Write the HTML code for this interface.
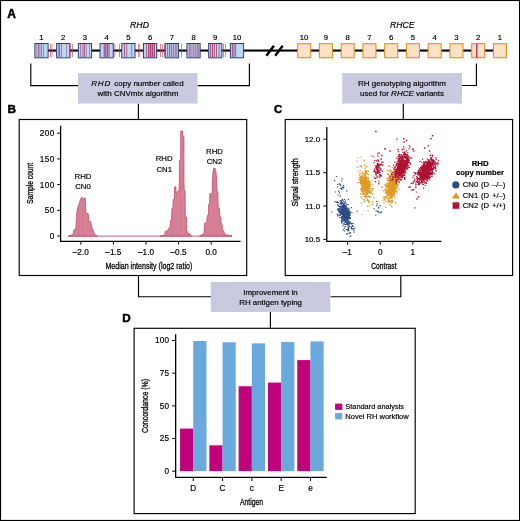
<!DOCTYPE html>
<html><head><meta charset="utf-8"><title>RH genotyping workflow</title>
<style>html,body{margin:0;padding:0;background:#fff}svg{display:block}text{font-family:"Liberation Sans", Arial, Helvetica, sans-serif;fill:#000;stroke:#000;stroke-width:0.18px}</style></head><body>
<svg width="520" height="521" viewBox="0 0 520 521">
<rect x="0" y="0" width="520" height="521" fill="#fff"/>
<rect x="0" y="0" width="520" height="1.05" fill="#000"/>
<rect x="0" y="519.9" width="520" height="1.1" fill="#000"/>
<rect x="0" y="0" width="1.1" height="521" fill="#000"/>
<rect x="519" y="0" width="1" height="521" fill="#000"/>
<text x="7.30" y="17.60" font-size="12.00" text-anchor="start" font-weight="bold" style="stroke-width:0.5px">A</text>
<text x="7.60" y="112.60" font-size="11.70" text-anchor="start" font-weight="bold" style="stroke-width:0.5px">B</text>
<text x="274.00" y="113.10" font-size="11.30" text-anchor="start" font-weight="bold" style="stroke-width:0.5px">C</text>
<text x="122.30" y="321.80" font-size="11.70" text-anchor="start" font-weight="bold" style="stroke-width:0.5px">D</text>
<g id="geneA">
<rect x="41" y="49.5" width="258" height="2.1" fill="#000"/>
<rect x="303" y="49.5" width="198" height="2.1" fill="#000"/>
<path d="M266.4 55.8 L273.9 45.7 M275.2 55.8 L282.7 45.7" stroke="#000" stroke-width="2.4" fill="none"/>
<text x="139.50" y="27.60" font-size="8.70" text-anchor="middle" font-style="italic">RHD</text>
<text x="402.30" y="27.60" font-size="8.60" text-anchor="middle" font-style="italic">RHCE</text>
<rect x="50.10" y="43.8" width="0.6" height="13.4" fill="#cc3355"/>
<rect x="51.70" y="43.8" width="0.6" height="13.4" fill="#cc3355"/>
<rect x="70.60" y="43.8" width="0.6" height="13.4" fill="#cc3355"/>
<rect x="72.20" y="43.8" width="0.6" height="13.4" fill="#cc3355"/>
<rect x="114.60" y="43.8" width="0.6" height="13.4" fill="#cc3355"/>
<rect x="119.20" y="43.8" width="0.6" height="13.4" fill="#cc3355"/>
<rect x="137.90" y="43.8" width="0.6" height="13.4" fill="#cc3355"/>
<rect x="139.50" y="43.8" width="0.6" height="13.4" fill="#cc3355"/>
<rect x="160.30" y="43.8" width="0.6" height="13.4" fill="#cc3355"/>
<rect x="161.90" y="43.8" width="0.6" height="13.4" fill="#cc3355"/>
<rect x="164.00" y="43.8" width="0.6" height="13.4" fill="#cc3355"/>
<rect x="181.20" y="43.8" width="0.6" height="13.4" fill="#cc3355"/>
<rect x="223.40" y="43.8" width="0.6" height="13.4" fill="#cc3355"/>
<rect x="225.50" y="43.8" width="0.6" height="13.4" fill="#cc3355"/>
<rect x="34.90" y="43.50" width="13.20" height="14.30" fill="#bcd7f2"/>
<rect x="36.55" y="44.00" width="0.70" height="13.30" fill="#a62862" opacity="0.8"/>
<rect x="38.15" y="44.00" width="0.70" height="13.30" fill="#a62862" opacity="0.8"/>
<rect x="39.55" y="44.00" width="0.70" height="13.30" fill="#a62862" opacity="0.8"/>
<rect x="41.25" y="44.00" width="0.70" height="13.30" fill="#a62862" opacity="0.8"/>
<rect x="43.30" y="44.00" width="0.60" height="13.30" fill="#a62862" opacity="0.8"/>
<rect x="34.90" y="43.50" width="13.20" height="14.30" fill="none" stroke="#27408b" stroke-width="1"/>
<text x="41.50" y="40.00" font-size="7.70" text-anchor="middle">1</text>
<rect x="56.62" y="43.50" width="13.20" height="14.30" fill="#bcd7f2"/>
<rect x="58.52" y="44.00" width="1.40" height="13.30" fill="#a62862" opacity="0.8"/>
<rect x="61.27" y="44.00" width="0.70" height="13.30" fill="#a62862" opacity="0.8"/>
<rect x="66.12" y="44.00" width="0.60" height="13.30" fill="#a62862" opacity="0.8"/>
<rect x="56.62" y="43.50" width="13.20" height="14.30" fill="none" stroke="#27408b" stroke-width="1"/>
<text x="63.22" y="40.00" font-size="7.70" text-anchor="middle">2</text>
<rect x="78.34" y="43.50" width="13.20" height="14.30" fill="#bcd7f2"/>
<rect x="80.34" y="44.00" width="0.80" height="13.30" fill="#a62862" opacity="0.8"/>
<rect x="82.64" y="44.00" width="0.80" height="13.30" fill="#a62862" opacity="0.8"/>
<rect x="83.94" y="44.00" width="0.80" height="13.30" fill="#a62862" opacity="0.8"/>
<rect x="85.79" y="44.00" width="0.70" height="13.30" fill="#a62862" opacity="0.8"/>
<rect x="89.24" y="44.00" width="0.60" height="13.30" fill="#a62862" opacity="0.8"/>
<rect x="78.34" y="43.50" width="13.20" height="14.30" fill="none" stroke="#27408b" stroke-width="1"/>
<text x="84.94" y="40.00" font-size="7.70" text-anchor="middle">3</text>
<rect x="100.06" y="43.50" width="13.20" height="14.30" fill="#bcd7f2"/>
<rect x="103.66" y="44.00" width="1.20" height="13.30" fill="#a62862" opacity="0.8"/>
<rect x="105.26" y="44.00" width="1.20" height="13.30" fill="#a62862" opacity="0.8"/>
<rect x="106.86" y="44.00" width="1.20" height="13.30" fill="#a62862" opacity="0.8"/>
<rect x="108.56" y="44.00" width="1.00" height="13.30" fill="#a62862" opacity="0.8"/>
<rect x="100.06" y="43.50" width="13.20" height="14.30" fill="none" stroke="#27408b" stroke-width="1"/>
<text x="106.66" y="40.00" font-size="7.70" text-anchor="middle">4</text>
<rect x="121.78" y="43.50" width="13.20" height="14.30" fill="#bcd7f2"/>
<rect x="124.03" y="44.00" width="0.90" height="13.30" fill="#a62862" opacity="0.8"/>
<rect x="126.38" y="44.00" width="0.80" height="13.30" fill="#a62862" opacity="0.8"/>
<rect x="131.43" y="44.00" width="0.70" height="13.30" fill="#a62862" opacity="0.8"/>
<rect x="121.78" y="43.50" width="13.20" height="14.30" fill="none" stroke="#27408b" stroke-width="1"/>
<text x="128.38" y="40.00" font-size="7.70" text-anchor="middle">5</text>
<rect x="143.50" y="43.50" width="13.20" height="14.30" fill="#bcd7f2"/>
<rect x="145.90" y="44.00" width="0.80" height="13.30" fill="#a62862" opacity="0.8"/>
<rect x="147.90" y="44.00" width="1.60" height="13.30" fill="#a62862" opacity="0.8"/>
<rect x="149.90" y="44.00" width="1.60" height="13.30" fill="#a62862" opacity="0.8"/>
<rect x="151.90" y="44.00" width="1.60" height="13.30" fill="#a62862" opacity="0.8"/>
<rect x="154.00" y="44.00" width="1.00" height="13.30" fill="#a62862" opacity="0.8"/>
<rect x="143.50" y="43.50" width="13.20" height="14.30" fill="none" stroke="#27408b" stroke-width="1"/>
<text x="150.10" y="40.00" font-size="7.70" text-anchor="middle">6</text>
<rect x="165.22" y="43.50" width="13.20" height="14.30" fill="#bcd7f2"/>
<rect x="167.22" y="44.00" width="0.80" height="13.30" fill="#a62862" opacity="0.8"/>
<rect x="168.97" y="44.00" width="0.90" height="13.30" fill="#a62862" opacity="0.8"/>
<rect x="170.77" y="44.00" width="0.90" height="13.30" fill="#a62862" opacity="0.8"/>
<rect x="172.77" y="44.00" width="0.90" height="13.30" fill="#a62862" opacity="0.8"/>
<rect x="174.82" y="44.00" width="0.80" height="13.30" fill="#a62862" opacity="0.8"/>
<rect x="176.47" y="44.00" width="0.70" height="13.30" fill="#a62862" opacity="0.8"/>
<rect x="165.22" y="43.50" width="13.20" height="14.30" fill="none" stroke="#27408b" stroke-width="1"/>
<text x="171.82" y="40.00" font-size="7.70" text-anchor="middle">7</text>
<rect x="186.94" y="43.50" width="13.20" height="14.30" fill="#bcd7f2"/>
<rect x="188.69" y="44.00" width="0.90" height="13.30" fill="#a62862" opacity="0.8"/>
<rect x="190.49" y="44.00" width="0.90" height="13.30" fill="#a62862" opacity="0.8"/>
<rect x="192.69" y="44.00" width="0.90" height="13.30" fill="#a62862" opacity="0.8"/>
<rect x="194.69" y="44.00" width="0.90" height="13.30" fill="#a62862" opacity="0.8"/>
<rect x="196.69" y="44.00" width="0.90" height="13.30" fill="#a62862" opacity="0.8"/>
<rect x="198.39" y="44.00" width="0.70" height="13.30" fill="#a62862" opacity="0.8"/>
<rect x="186.94" y="43.50" width="13.20" height="14.30" fill="none" stroke="#27408b" stroke-width="1"/>
<text x="193.54" y="40.00" font-size="7.70" text-anchor="middle">8</text>
<rect x="208.66" y="43.50" width="13.20" height="14.30" fill="#bcd7f2"/>
<rect x="210.16" y="44.00" width="1.00" height="13.30" fill="#a62862" opacity="0.8"/>
<rect x="211.96" y="44.00" width="1.00" height="13.30" fill="#a62862" opacity="0.8"/>
<rect x="213.76" y="44.00" width="1.00" height="13.30" fill="#a62862" opacity="0.8"/>
<rect x="216.01" y="44.00" width="0.90" height="13.30" fill="#a62862" opacity="0.8"/>
<rect x="218.66" y="44.00" width="0.80" height="13.30" fill="#a62862" opacity="0.8"/>
<rect x="208.66" y="43.50" width="13.20" height="14.30" fill="none" stroke="#27408b" stroke-width="1"/>
<text x="215.26" y="40.00" font-size="7.70" text-anchor="middle">9</text>
<rect x="230.38" y="43.50" width="13.20" height="14.30" fill="#bcd7f2"/>
<rect x="231.88" y="44.00" width="1.00" height="13.30" fill="#a62862" opacity="0.8"/>
<rect x="233.48" y="44.00" width="1.00" height="13.30" fill="#a62862" opacity="0.8"/>
<rect x="235.13" y="44.00" width="0.90" height="13.30" fill="#a62862" opacity="0.8"/>
<rect x="230.38" y="43.50" width="13.20" height="14.30" fill="none" stroke="#27408b" stroke-width="1"/>
<text x="236.98" y="40.00" font-size="7.70" text-anchor="middle">10</text>
<rect x="297.70" y="43.70" width="13.00" height="14.00" fill="#fbe2c6" stroke="#e2901c" stroke-width="1.1"/>
<text x="304.05" y="40.00" font-size="7.70" text-anchor="middle">10</text>
<rect x="319.45" y="43.70" width="13.00" height="14.00" fill="#fbe2c6" stroke="#e2901c" stroke-width="1.1"/>
<text x="325.80" y="40.00" font-size="7.70" text-anchor="middle">9</text>
<rect x="341.20" y="43.70" width="13.00" height="14.00" fill="#fbe2c6" stroke="#e2901c" stroke-width="1.1"/>
<text x="347.55" y="40.00" font-size="7.70" text-anchor="middle">8</text>
<rect x="362.95" y="43.70" width="13.00" height="14.00" fill="#fbe2c6" stroke="#e2901c" stroke-width="1.1"/>
<text x="369.30" y="40.00" font-size="7.70" text-anchor="middle">7</text>
<rect x="384.70" y="43.70" width="13.00" height="14.00" fill="#fbe2c6" stroke="#e2901c" stroke-width="1.1"/>
<text x="391.05" y="40.00" font-size="7.70" text-anchor="middle">6</text>
<rect x="406.45" y="43.70" width="13.00" height="14.00" fill="#fbe2c6" stroke="#e2901c" stroke-width="1.1"/>
<text x="412.80" y="40.00" font-size="7.70" text-anchor="middle">5</text>
<rect x="428.20" y="43.70" width="13.00" height="14.00" fill="#fbe2c6" stroke="#e2901c" stroke-width="1.1"/>
<text x="434.55" y="40.00" font-size="7.70" text-anchor="middle">4</text>
<rect x="449.95" y="43.70" width="13.00" height="14.00" fill="#fbe2c6" stroke="#e2901c" stroke-width="1.1"/>
<text x="456.30" y="40.00" font-size="7.70" text-anchor="middle">3</text>
<rect x="471.70" y="43.70" width="13.00" height="14.00" fill="#fbe2c6" stroke="#e2901c" stroke-width="1.1"/>
<rect x="476.20" y="43.4" width="1.2" height="14.6" fill="#b5183a"/>
<text x="478.05" y="40.00" font-size="7.70" text-anchor="middle">2</text>
<rect x="493.45" y="43.70" width="13.00" height="14.00" fill="#fbe2c6" stroke="#e2901c" stroke-width="1.1"/>
<text x="499.80" y="40.00" font-size="7.70" text-anchor="middle">1</text>
</g>
<path d="M30.80 63.40 L30.80 85.60 L78.00 85.60" stroke="#000" stroke-width="1.15" fill="none"/>
<path d="M249.40 63.40 L249.40 85.60 L197.50 85.60" stroke="#000" stroke-width="1.15" fill="none"/>
<path d="M138.40 103.50 L138.40 119.50" stroke="#000" stroke-width="1.15" fill="none"/>
<path d="M476.40 63.40 L476.40 85.50 L462.00 85.50" stroke="#000" stroke-width="1.15" fill="none"/>
<path d="M403.30 103.50 L403.30 119.50" stroke="#000" stroke-width="1.15" fill="none"/>
<path d="M138.50 275.50 L138.50 296.70 L211.00 296.70" stroke="#000" stroke-width="1.15" fill="none"/>
<path d="M400.80 275.50 L400.80 296.70 L330.50 296.70" stroke="#000" stroke-width="1.15" fill="none"/>
<path d="M270.40 311.90 L270.40 328.30" stroke="#000" stroke-width="1.15" fill="none"/>
<rect x="78" y="73.1" width="119.5" height="30.5" fill="#c9c9df"/>
<rect x="342.2" y="73.1" width="119.8" height="30.5" fill="#c9c9df"/>
<rect x="210.8" y="282.0" width="119.5" height="30.0" fill="#c9c9df"/>
<text x="91.3" y="85.6" font-size="8.0" text-anchor="start"><tspan font-style="italic" letter-spacing="0.8">RHD</tspan><tspan dx="1.0"> copy number called</tspan></text>
<text x="137.90" y="96.10" font-size="8.00" text-anchor="middle">with CNVmix algorithm</text>
<text x="402.00" y="85.50" font-size="8.00" text-anchor="middle">RH genotyping algorithm</text>
<text x="402" y="96.1" font-size="8.0" text-anchor="middle">used for <tspan font-style="italic">RHCE</tspan> variants</text>
<text x="270.40" y="294.50" font-size="7.90" text-anchor="middle">Improvement in</text>
<text x="270.60" y="304.90" font-size="7.90" text-anchor="middle">RH antigen typing</text>
<rect x="19.20" y="119.50" width="227.50" height="156.00" fill="none" stroke="#000" stroke-width="1.15"/>
<rect x="285.20" y="119.50" width="227.40" height="156.00" fill="none" stroke="#000" stroke-width="1.15"/>
<rect x="134.10" y="328.30" width="281.10" height="185.30" fill="none" stroke="#000" stroke-width="1.15"/>
<g id="panelB">
<rect x="68" y="235.7" width="164" height="0.8" fill="#bd3b5b"/>
<clipPath id="hc0"><path d="M68.40 236.10 L68.40 235.90 L70.60 235.40 L73.20 233.80 L73.70 230.10 L75.80 229.10 L76.40 216.40 L77.40 208.50 L79.00 204.30 L80.10 200.00 L81.60 197.20 L83.20 198.40 L85.30 197.90 L85.90 213.20 L88.30 213.80 L88.70 221.20 L90.80 221.70 L91.70 227.00 L93.30 230.70 L94.30 233.80 L96.40 235.40 L97.50 236.00 L97.50 236.10 Z"/></clipPath>
<path d="M68.40 236.10 L68.40 235.90 L70.60 235.40 L73.20 233.80 L73.70 230.10 L75.80 229.10 L76.40 216.40 L77.40 208.50 L79.00 204.30 L80.10 200.00 L81.60 197.20 L83.20 198.40 L85.30 197.90 L85.90 213.20 L88.30 213.80 L88.70 221.20 L90.80 221.70 L91.70 227.00 L93.30 230.70 L94.30 233.80 L96.40 235.40 L97.50 236.00 L97.50 236.10 Z" fill="#de93a6" stroke="#bd3b5b" stroke-width="0.65" stroke-linejoin="round"/>
<path d="M69.30 126V236M70.60 126V236M71.91 126V236M73.21 126V236M74.52 126V236M75.82 126V236M77.12 126V236M78.43 126V236M79.73 126V236M81.04 126V236M82.34 126V236M83.64 126V236M84.95 126V236M86.25 126V236M87.56 126V236M88.86 126V236M90.16 126V236M91.47 126V236M92.77 126V236M94.08 126V236M95.38 126V236M96.68 126V236" stroke="#c2506f" stroke-width="0.45" fill="none" opacity="0.85" clip-path="url(#hc0)"/>
<clipPath id="hc1"><path d="M160.00 236.10 L160.00 236.10 L164.60 235.30 L165.20 231.30 L168.60 230.10 L169.20 227.20 L170.40 226.70 L170.60 220.30 L171.50 219.70 L171.90 208.20 L172.90 207.60 L173.20 199.60 L174.40 199.00 L174.60 186.90 L175.90 186.70 L176.10 193.80 L177.30 191.50 L179.00 190.90 L179.40 180.00 L179.40 160.60 L180.70 160.00 L180.70 131.20 L182.50 130.80 L182.70 135.80 L184.00 136.40 L184.00 180.00 L184.20 189.80 L185.10 190.40 L185.30 216.30 L186.50 216.90 L186.70 230.70 L187.60 231.80 L188.20 234.10 L189.70 233.60 L190.50 235.30 L191.70 236.10 L191.70 236.10 Z"/></clipPath>
<path d="M160.00 236.10 L160.00 236.10 L164.60 235.30 L165.20 231.30 L168.60 230.10 L169.20 227.20 L170.40 226.70 L170.60 220.30 L171.50 219.70 L171.90 208.20 L172.90 207.60 L173.20 199.60 L174.40 199.00 L174.60 186.90 L175.90 186.70 L176.10 193.80 L177.30 191.50 L179.00 190.90 L179.40 180.00 L179.40 160.60 L180.70 160.00 L180.70 131.20 L182.50 130.80 L182.70 135.80 L184.00 136.40 L184.00 180.00 L184.20 189.80 L185.10 190.40 L185.30 216.30 L186.50 216.90 L186.70 230.70 L187.60 231.80 L188.20 234.10 L189.70 233.60 L190.50 235.30 L191.70 236.10 L191.70 236.10 Z" fill="#de93a6" stroke="#bd3b5b" stroke-width="0.65" stroke-linejoin="round"/>
<path d="M160.90 126V236M162.20 126V236M163.51 126V236M164.81 126V236M166.12 126V236M167.42 126V236M168.72 126V236M170.03 126V236M171.33 126V236M172.64 126V236M173.94 126V236M175.24 126V236M176.55 126V236M177.85 126V236M179.16 126V236M180.46 126V236M181.76 126V236M183.07 126V236M184.37 126V236M185.68 126V236M186.98 126V236M188.28 126V236M189.59 126V236M190.89 126V236" stroke="#c2506f" stroke-width="0.45" fill="none" opacity="0.85" clip-path="url(#hc1)"/>
<clipPath id="hc2"><path d="M199.50 236.10 L199.50 236.00 L202.30 234.40 L204.00 233.10 L204.40 223.30 L206.70 222.70 L207.20 215.80 L208.30 215.20 L208.70 204.20 L209.50 203.60 L209.80 193.80 L212.10 193.30 L212.50 180.00 L213.00 172.00 L213.60 168.00 L215.20 168.40 L216.00 172.00 L216.70 180.00 L217.10 191.50 L217.90 192.10 L218.20 207.70 L219.40 208.30 L219.80 216.30 L220.80 216.90 L221.10 223.30 L221.90 223.80 L222.50 229.60 L223.60 230.80 L224.50 233.60 L226.50 234.80 L230.00 235.70 L232.00 236.00 L232.00 236.10 Z"/></clipPath>
<path d="M199.50 236.10 L199.50 236.00 L202.30 234.40 L204.00 233.10 L204.40 223.30 L206.70 222.70 L207.20 215.80 L208.30 215.20 L208.70 204.20 L209.50 203.60 L209.80 193.80 L212.10 193.30 L212.50 180.00 L213.00 172.00 L213.60 168.00 L215.20 168.40 L216.00 172.00 L216.70 180.00 L217.10 191.50 L217.90 192.10 L218.20 207.70 L219.40 208.30 L219.80 216.30 L220.80 216.90 L221.10 223.30 L221.90 223.80 L222.50 229.60 L223.60 230.80 L224.50 233.60 L226.50 234.80 L230.00 235.70 L232.00 236.00 L232.00 236.10 Z" fill="#de93a6" stroke="#bd3b5b" stroke-width="0.65" stroke-linejoin="round"/>
<path d="M200.40 126V236M201.70 126V236M203.01 126V236M204.31 126V236M205.62 126V236M206.92 126V236M208.22 126V236M209.53 126V236M210.83 126V236M212.14 126V236M213.44 126V236M214.74 126V236M216.05 126V236M217.35 126V236M218.66 126V236M219.96 126V236M221.26 126V236M222.57 126V236M223.87 126V236M225.18 126V236M226.48 126V236M227.78 126V236M229.09 126V236M230.39 126V236M231.70 126V236" stroke="#c2506f" stroke-width="0.45" fill="none" opacity="0.85" clip-path="url(#hc2)"/>
<path d="M60.6 125.8 V241.3 H240.5" stroke="#000" stroke-width="1.3" fill="none"/>
<path d="M57.2 236.00 H60.6" stroke="#000" stroke-width="1.0"/>
<text x="54.60" y="238.90" font-size="8.20" text-anchor="end" letter-spacing="0.4">0</text>
<path d="M57.2 210.30 H60.6" stroke="#000" stroke-width="1.0"/>
<text x="54.60" y="213.20" font-size="8.20" text-anchor="end" letter-spacing="0.4">50</text>
<path d="M57.2 184.60 H60.6" stroke="#000" stroke-width="1.0"/>
<text x="54.60" y="187.50" font-size="8.20" text-anchor="end" letter-spacing="0.4">100</text>
<path d="M57.2 158.90 H60.6" stroke="#000" stroke-width="1.0"/>
<text x="54.60" y="161.80" font-size="8.20" text-anchor="end" letter-spacing="0.4">150</text>
<path d="M57.2 133.20 H60.6" stroke="#000" stroke-width="1.0"/>
<text x="54.60" y="136.10" font-size="8.20" text-anchor="end" letter-spacing="0.4">200</text>
<path d="M80.80 241.1 V244.6" stroke="#000" stroke-width="1.0"/>
<text x="80.80" y="255.30" font-size="8.20" text-anchor="middle" letter-spacing="0.05">–2.0</text>
<path d="M113.40 241.1 V244.6" stroke="#000" stroke-width="1.0"/>
<text x="113.40" y="255.30" font-size="8.20" text-anchor="middle" letter-spacing="0.05">–1.5</text>
<path d="M146.00 241.1 V244.6" stroke="#000" stroke-width="1.0"/>
<text x="146.00" y="255.30" font-size="8.20" text-anchor="middle" letter-spacing="0.05">–1.0</text>
<path d="M178.60 241.1 V244.6" stroke="#000" stroke-width="1.0"/>
<text x="178.60" y="255.30" font-size="8.20" text-anchor="middle" letter-spacing="0.05">–0.5</text>
<path d="M211.20 241.1 V244.6" stroke="#000" stroke-width="1.0"/>
<text x="211.20" y="255.30" font-size="8.20" text-anchor="middle" letter-spacing="0.05">0.0</text>
<text transform="translate(148.90 268.70) scale(0.723 1)" font-size="9.80" text-anchor="middle" style="stroke-width:0.3px">Median intensity (log2 ratio)</text>
<text transform="translate(32.80 183.30) rotate(-90) scale(0.685 1)" font-size="9.80" text-anchor="middle" style="stroke-width:0.3px">Sample count</text>
<text x="83.00" y="178.50" font-size="7.80" text-anchor="middle">RHD</text>
<text x="83.00" y="188.90" font-size="7.80" text-anchor="middle">CN0</text>
<text x="164.20" y="161.30" font-size="7.80" text-anchor="middle">RHD</text>
<text x="164.20" y="171.60" font-size="7.80" text-anchor="middle">CN1</text>
<text x="214.50" y="154.10" font-size="7.80" text-anchor="middle">RHD</text>
<text x="214.50" y="164.20" font-size="7.80" text-anchor="middle">CN2</text>
</g>
<g id="panelC">
<path d="M343.8 214.4h1.2M342.7 210.8h1.2M341.3 211.7h1.2M346.7 213.1h1.2M346.3 212.4h1.2M344.8 212.5h1.2M341.2 216.9h1.2M345.5 213.8h1.2M337.5 205.6h1.2M341.1 210.6h1.2M344.3 211.6h1.2M343.9 208.8h1.2M344.9 213.5h1.2M344.7 220.0h1.2M346.6 216.8h1.2M341.3 209.2h1.2M342.8 211.8h1.2M345.4 212.6h1.2M341.3 208.1h1.2M344.3 217.7h1.2M342.3 213.6h1.2M342.5 205.2h1.2M345.6 217.7h1.2M338.8 212.0h1.2M342.3 208.5h1.2M344.7 211.4h1.2M341.6 216.7h1.2M346.5 215.7h1.2M347.3 212.6h1.2M342.1 206.2h1.2M344.2 208.9h1.2M340.9 206.8h1.2M340.8 210.4h1.2M343.6 202.2h1.2M340.8 214.1h1.2M347.7 213.5h1.2M335.9 202.3h1.2M343.4 208.5h1.2M342.6 217.1h1.2M346.3 211.9h1.2M344.8 213.7h1.2M348.0 213.6h1.2M345.6 214.0h1.2M342.1 218.7h1.2M346.5 213.6h1.2M338.5 210.6h1.2M342.9 203.5h1.2M344.7 216.6h1.2M343.1 220.0h1.2M344.7 211.0h1.2M345.3 214.6h1.2M345.6 216.9h1.2M341.6 210.7h1.2M346.0 211.4h1.2M343.1 216.8h1.2M346.2 209.0h1.2M340.5 212.4h1.2M342.9 210.8h1.2M345.3 206.5h1.2M344.6 205.6h1.2M342.9 215.3h1.2M347.4 215.0h1.2M344.6 212.4h1.2M344.8 214.4h1.2M343.7 213.3h1.2M344.9 211.6h1.2M346.2 213.9h1.2M348.5 212.0h1.2M342.2 210.7h1.2M345.0 216.1h1.2M343.5 213.9h1.2M344.0 199.5h1.2M341.6 213.9h1.2M344.9 212.8h1.2M343.7 215.2h1.2M343.6 209.5h1.2M349.5 211.8h1.2M342.3 212.0h1.2M343.1 211.9h1.2M344.2 206.2h1.2M344.9 216.2h1.2M347.7 217.9h1.2M339.5 211.7h1.2M343.8 215.0h1.2M344.0 204.9h1.2M343.0 205.0h1.2M345.8 217.1h1.2M343.6 212.9h1.2M345.6 212.1h1.2M345.7 218.8h1.2M345.6 210.0h1.2M345.3 210.2h1.2M345.0 215.0h1.2M345.1 214.6h1.2M338.2 206.5h1.2M343.7 207.3h1.2M339.3 206.3h1.2M347.5 214.4h1.2M345.6 206.9h1.2M342.1 207.0h1.2M347.6 218.4h1.2M343.9 219.5h1.2M345.6 210.5h1.2M341.4 219.6h1.2M342.6 209.4h1.2M345.1 213.5h1.2M345.5 206.5h1.2M348.3 217.7h1.2M346.6 210.2h1.2M343.5 217.0h1.2M344.1 212.5h1.2M346.4 209.8h1.2M338.1 211.9h1.2M340.8 216.9h1.2M343.5 209.1h1.2M344.8 215.6h1.2M345.7 217.7h1.2M345.0 216.6h1.2M349.2 218.0h1.2M343.5 216.3h1.2M338.0 208.6h1.2M340.9 218.1h1.2M341.0 212.8h1.2M343.2 212.0h1.2M342.7 213.4h1.2M347.7 210.9h1.2M346.3 216.0h1.2M341.5 206.6h1.2M344.0 217.1h1.2M339.2 210.6h1.2M347.0 214.8h1.2M344.8 215.5h1.2M342.4 206.7h1.2M339.3 210.3h1.2M344.9 208.9h1.2M340.6 209.3h1.2M340.2 212.6h1.2M341.6 214.4h1.2M339.0 215.1h1.2M339.5 204.0h1.2M344.9 210.3h1.2M337.6 209.8h1.2M343.7 209.8h1.2M346.4 214.7h1.2M345.6 213.0h1.2M347.5 213.9h1.2M341.7 202.6h1.2M347.5 217.1h1.2M342.4 210.2h1.2M345.4 202.9h1.2M348.1 222.3h1.2M342.6 215.7h1.2M347.6 210.1h1.2M346.2 215.5h1.2M341.6 212.3h1.2M345.5 215.4h1.2M343.3 211.2h1.2M340.9 211.2h1.2M345.8 211.8h1.2M340.6 208.9h1.2M341.4 200.2h1.2M345.7 213.7h1.2M348.0 212.7h1.2M344.3 214.3h1.2M340.9 217.9h1.2M343.4 208.7h1.2M349.1 219.0h1.2M339.7 210.1h1.2M344.6 212.6h1.2M341.4 208.0h1.2M349.8 215.0h1.2M339.2 207.0h1.2M348.8 215.1h1.2M348.8 214.3h1.2M342.1 213.8h1.2M337.9 210.3h1.2M344.3 214.3h1.2M341.9 212.0h1.2M345.2 213.3h1.2M345.4 212.5h1.2M344.1 215.7h1.2M342.6 208.4h1.2M342.3 212.4h1.2M343.7 212.8h1.2M343.9 212.8h1.2M341.6 206.6h1.2M346.1 216.3h1.2M344.4 210.9h1.2M343.3 207.5h1.2M339.6 213.6h1.2M342.7 215.9h1.2M343.6 219.6h1.2M340.9 206.3h1.2M342.7 214.8h1.2M345.0 212.4h1.2M347.9 214.0h1.2M344.5 214.6h1.2M348.7 215.1h1.2M344.4 206.5h1.2M344.4 215.3h1.2M344.5 216.9h1.2M346.3 215.5h1.2M346.8 223.3h1.2M346.1 210.2h1.2M347.6 223.3h1.2M344.2 216.1h1.2M345.8 211.3h1.2M341.4 213.6h1.2M346.1 216.7h1.2M345.4 211.6h1.2M346.3 213.8h1.2M344.2 212.1h1.2M344.1 215.2h1.2M340.5 210.0h1.2M341.6 205.6h1.2M339.9 203.5h1.2M343.0 215.0h1.2M344.8 211.4h1.2M341.2 206.0h1.2M348.4 213.0h1.2M344.8 207.4h1.2M340.7 204.2h1.2M346.7 215.5h1.2M339.5 213.1h1.2M342.5 203.8h1.2M338.2 208.6h1.2M340.3 206.3h1.2M344.1 213.1h1.2M346.1 214.6h1.2M348.6 216.0h1.2M340.1 210.7h1.2M339.8 208.0h1.2M343.5 212.1h1.2M342.5 204.7h1.2M340.9 212.8h1.2M342.8 210.8h1.2M342.5 208.7h1.2M345.7 213.1h1.2M342.5 209.1h1.2M341.6 212.9h1.2M340.7 213.9h1.2M342.0 205.9h1.2M342.7 210.8h1.2M345.6 214.4h1.2M342.4 208.3h1.2M343.3 211.8h1.2M345.7 212.8h1.2M340.2 206.6h1.2M341.8 209.0h1.2M341.1 212.3h1.2M342.8 212.8h1.2M344.2 209.8h1.2M348.3 208.9h1.2M346.3 211.7h1.2M342.7 200.8h1.2M342.4 213.6h1.2M348.3 221.8h1.2M346.2 217.4h1.2M346.7 215.6h1.2M344.6 211.0h1.2M343.3 206.9h1.2M344.8 206.7h1.2M347.2 221.1h1.2M343.2 212.2h1.2M346.3 211.3h1.2M342.3 213.7h1.2M346.0 214.7h1.2M344.5 220.2h1.2M347.3 210.9h1.2M343.7 209.9h1.2M345.8 207.9h1.2M344.5 209.4h1.2M343.2 215.6h1.2M346.6 211.0h1.2M343.3 216.0h1.2M344.0 213.4h1.2M348.6 215.9h1.2M345.8 222.4h1.2M344.8 215.4h1.2M342.2 212.3h1.2M342.4 221.1h1.2M344.9 205.7h1.2M338.1 206.0h1.2M345.6 209.2h1.2M343.1 210.7h1.2M341.9 207.3h1.2M341.7 205.7h1.2M344.0 213.4h1.2M344.4 210.7h1.2M341.9 213.3h1.2M344.8 219.2h1.2M345.2 211.0h1.2M341.6 209.3h1.2M341.1 211.1h1.2M345.1 214.0h1.2M347.9 220.8h1.2M342.2 212.6h1.2M342.8 213.1h1.2M344.6 213.7h1.2M343.7 213.8h1.2M344.9 215.3h1.2M338.3 209.5h1.2M342.2 207.5h1.2M342.3 215.5h1.2M343.2 215.2h1.2M345.7 212.8h1.2M344.6 211.2h1.2M340.5 212.9h1.2M343.9 209.4h1.2M344.5 215.3h1.2M342.7 215.4h1.2M347.0 208.3h1.2M343.8 211.2h1.2M347.5 212.3h1.2M344.7 208.3h1.2M343.6 212.0h1.2M341.8 219.6h1.2M343.2 203.7h1.2M345.1 210.9h1.2M345.2 213.3h1.2M340.1 212.1h1.2M346.1 208.4h1.2M339.5 206.8h1.2M341.5 214.3h1.2M348.0 212.7h1.2M347.4 221.6h1.2M341.6 209.4h1.2M345.6 214.0h1.2M339.8 207.6h1.2M344.7 212.9h1.2M339.9 213.9h1.2M343.5 217.4h1.2M343.8 213.6h1.2M345.2 221.0h1.2M348.1 210.4h1.2M345.7 208.4h1.2M346.0 218.7h1.2M348.5 210.2h1.2M344.5 215.3h1.2M339.7 215.5h1.2M342.9 217.0h1.2M337.2 202.5h1.2M345.0 215.6h1.2M344.3 220.1h1.2M342.4 210.4h1.2M343.0 203.6h1.2M342.2 214.5h1.2M346.8 212.2h1.2M344.2 209.6h1.2M348.4 224.3h1.2M346.5 229.6h1.2M342.4 214.7h1.2M346.8 220.3h1.2M336.6 201.8h1.2M347.7 218.5h1.2M345.5 215.4h1.2M348.0 215.5h1.2M347.4 204.6h1.2M346.3 210.9h1.2M351.2 226.8h1.2M343.9 212.4h1.2M341.3 209.1h1.2M343.5 218.6h1.2M344.6 214.4h1.2M345.5 220.0h1.2M345.7 212.7h1.2M346.2 212.4h1.2M343.4 224.3h1.2M344.1 207.5h1.2M348.4 215.2h1.2M342.3 225.6h1.2M347.1 219.4h1.2M344.7 212.9h1.2M341.2 221.6h1.2M343.9 212.2h1.2M345.6 214.2h1.2M345.8 211.0h1.2M340.4 200.5h1.2M344.3 218.7h1.2M348.0 210.5h1.2M346.9 224.2h1.2M344.7 219.0h1.2M349.8 212.7h1.2M347.0 208.4h1.2M344.9 213.3h1.2M346.8 221.1h1.2M350.7 207.6h1.2M343.5 217.7h1.2M341.9 218.1h1.2M345.7 211.7h1.2M343.2 203.7h1.2M344.0 203.5h1.2M341.2 211.1h1.2M344.7 219.8h1.2M343.9 211.4h1.2M349.0 223.5h1.2M345.1 216.3h1.2M348.8 214.6h1.2M347.8 199.4h1.2M345.0 216.7h1.2M348.7 217.4h1.2M341.6 207.6h1.2M346.6 220.5h1.2M339.0 208.5h1.2M340.8 201.7h1.2M342.8 211.5h1.2M344.5 209.1h1.2M340.9 212.3h1.2M343.0 209.8h1.2M345.8 218.7h1.2M351.2 223.7h1.2M341.1 212.0h1.2M342.0 214.4h1.2M343.6 204.9h1.2M345.8 213.4h1.2M339.1 217.5h1.2M344.8 201.1h1.2M347.3 214.6h1.2M346.7 216.4h1.2M348.1 211.4h1.2M346.4 210.6h1.2M345.2 208.2h1.2M347.2 225.1h1.2M345.5 212.6h1.2M339.3 210.0h1.2M346.7 219.8h1.2M346.7 216.9h1.2M346.7 222.6h1.2M342.1 210.9h1.2M347.3 213.6h1.2M342.4 210.6h1.2M344.7 218.2h1.2M343.3 206.0h1.2M346.1 214.7h1.2M342.6 219.8h1.2M342.9 212.1h1.2M349.3 221.7h1.2M343.0 217.4h1.2M345.8 229.5h1.2M345.0 222.0h1.2M343.8 219.7h1.2M343.9 217.6h1.2M342.9 209.8h1.2M351.3 212.5h1.2M340.7 220.9h1.2M341.0 222.9h1.2M342.8 215.4h1.2M348.6 213.6h1.2M336.9 204.5h1.2M349.5 217.6h1.2M343.4 220.2h1.2M347.1 217.7h1.2M336.7 214.1h1.2M348.6 217.8h1.2M345.8 217.0h1.2M343.4 214.5h1.2M346.4 210.4h1.2M346.6 208.0h1.2M344.3 210.4h1.2M343.6 209.5h1.2M341.3 222.4h1.2M344.3 210.2h1.2M346.8 220.1h1.2M341.1 214.2h1.2M347.0 216.8h1.2M339.5 200.9h1.2M348.9 215.0h1.2M343.9 212.2h1.2M344.4 211.1h1.2M339.8 210.2h1.2M341.4 210.7h1.2M341.9 219.1h1.2M341.4 219.4h1.2M341.8 217.2h1.2M349.1 214.0h1.2M342.1 215.0h1.2M341.7 202.9h1.2M342.7 215.6h1.2M343.0 214.9h1.2M348.1 218.2h1.2M348.3 216.9h1.2M343.4 214.1h1.2M342.9 212.3h1.2M340.7 203.2h1.2M343.3 214.2h1.2M341.2 214.7h1.2M345.7 212.5h1.2M340.4 202.6h1.2M345.5 211.6h1.2M342.0 199.3h1.2M347.8 215.6h1.2M343.4 210.3h1.2M345.5 210.3h1.2M344.2 210.6h1.2M337.2 215.8h1.2M346.4 218.6h1.2M341.5 214.6h1.2M346.6 214.4h1.2M351.9 225.5h1.2M338.0 202.6h1.2M349.9 222.9h1.2M348.8 218.3h1.2M341.1 210.0h1.2M345.5 207.4h1.2M336.8 209.3h1.2M340.9 210.0h1.2M343.7 209.0h1.2M348.4 212.3h1.2M343.3 223.3h1.2M342.9 215.9h1.2M343.8 212.0h1.2M344.1 209.3h1.2M334.5 201.7h1.2M339.0 210.3h1.2M344.4 214.4h1.2M346.4 214.3h1.2M340.6 210.2h1.2M337.3 214.9h1.2M346.9 216.9h1.2M343.7 213.0h1.2M347.4 213.2h1.2M347.8 217.0h1.2M347.4 222.1h1.2M341.9 212.2h1.2M340.4 209.7h1.2M352.5 223.7h1.2M345.5 217.6h1.2M349.6 218.1h1.2M345.9 204.9h1.2M343.2 217.5h1.2M351.1 227.0h1.2M344.8 226.6h1.2M344.8 224.5h1.2M350.5 224.0h1.2M349.8 236.3h1.2M350.7 228.1h1.2M346.3 229.6h1.2M352.1 228.9h1.2M350.6 227.0h1.2M348.5 226.3h1.2M349.9 232.5h1.2M343.7 228.2h1.2M347.4 225.0h1.2M347.5 230.9h1.2M353.1 228.7h1.2M346.5 221.0h1.2M352.3 226.5h1.2M346.1 223.0h1.2M346.0 223.1h1.2M348.1 229.3h1.2M347.8 228.6h1.2M346.8 233.9h1.2M343.8 220.6h1.2M346.1 224.5h1.2M344.5 226.7h1.2M346.8 222.5h1.2M348.6 233.4h1.2M348.9 226.4h1.2M347.6 226.9h1.2M348.1 230.5h1.2M346.4 223.9h1.2M348.3 224.6h1.2M350.1 236.2h1.2M343.5 223.6h1.2M341.2 218.7h1.2M343.1 230.2h1.2M343.7 220.4h1.2M344.3 231.0h1.2M345.0 226.5h1.2M349.7 232.8h1.2M353.4 230.4h1.2M347.9 228.2h1.2M353.5 232.1h1.2M347.1 229.6h1.2M348.2 227.5h1.2M344.7 222.5h1.2M344.4 221.6h1.2M351.0 228.9h1.2M345.9 234.0h1.2M347.5 219.2h1.2M346.1 190.8h1.2M341.5 189.5h1.2M340.2 188.3h1.2M341.4 178.8h1.2M334.0 180.7h1.2M337.0 184.5h1.2M340.8 188.7h1.2M338.8 183.8h1.2M338.8 192.9h1.2M342.0 187.6h1.2M339.8 196.1h1.2M338.1 191.4h1.2M342.9 185.4h1.2M341.0 181.0h1.2M342.9 188.0h1.2M334.9 192.0h1.2M337.7 195.0h1.2M337.0 187.0h1.2M340.0 185.5h1.2M339.7 184.4h1.2M341.6 187.1h1.2M343.2 187.0h1.2M373.5 208.9h1.2M378.4 213.0h1.2M375.0 215.0h1.2M377.1 211.4h1.2M376.6 203.8h1.2M379.8 212.3h1.2M380.8 212.1h1.2M376.1 201.5h1.2M375.9 205.7h1.2M375.6 210.9h1.2M378.1 207.4h1.2M377.8 207.9h1.2M377.8 211.7h1.2M379.5 205.6h1.2M414.4 207.8h1.2M378.4 181.0h1.2M335.9 176.5h1.2M331.2 212.0h1.2M356.4 211.0h1.2M354.4 228.0h1.2" stroke="#2d4b86" stroke-width="1.2" fill="none"/>
<path d="M362.5 192.1h1.2M365.9 190.0h1.2M360.8 184.2h1.2M363.7 178.5h1.2M364.2 188.5h1.2M368.5 191.8h1.2M361.7 179.0h1.2M366.7 189.1h1.2M364.2 179.0h1.2M367.2 188.3h1.2M365.6 182.6h1.2M366.1 188.5h1.2M362.0 176.9h1.2M365.9 187.0h1.2M365.5 189.0h1.2M363.4 184.9h1.2M364.5 187.7h1.2M368.2 183.2h1.2M370.7 191.1h1.2M367.0 187.3h1.2M368.6 183.5h1.2M363.7 180.2h1.2M366.9 190.9h1.2M366.3 186.7h1.2M364.5 185.8h1.2M362.4 190.3h1.2M363.0 180.2h1.2M362.4 181.6h1.2M367.6 189.5h1.2M362.4 189.7h1.2M366.3 182.0h1.2M360.8 182.2h1.2M363.6 186.8h1.2M362.3 176.0h1.2M364.1 178.0h1.2M365.9 179.2h1.2M362.5 181.4h1.2M364.6 191.1h1.2M367.2 187.4h1.2M364.3 177.9h1.2M363.2 182.7h1.2M363.0 187.7h1.2M362.5 182.1h1.2M360.8 176.1h1.2M367.2 190.8h1.2M364.4 180.5h1.2M367.8 185.9h1.2M368.1 191.3h1.2M367.0 182.6h1.2M367.8 188.1h1.2M361.0 183.8h1.2M361.5 185.1h1.2M365.2 179.9h1.2M361.2 191.7h1.2M366.8 191.5h1.2M362.6 190.3h1.2M371.1 193.3h1.2M364.5 186.3h1.2M365.2 189.6h1.2M367.2 185.0h1.2M362.3 188.9h1.2M364.2 188.0h1.2M366.7 192.3h1.2M367.0 182.5h1.2M367.0 192.9h1.2M363.9 187.2h1.2M368.5 190.2h1.2M364.9 178.8h1.2M362.1 186.6h1.2M367.7 196.4h1.2M363.7 190.5h1.2M365.2 177.1h1.2M363.1 186.1h1.2M363.5 184.5h1.2M365.2 181.1h1.2M365.3 181.9h1.2M364.0 187.6h1.2M363.7 186.5h1.2M368.4 184.5h1.2M365.0 188.4h1.2M364.8 190.1h1.2M362.4 188.3h1.2M363.0 181.6h1.2M368.1 180.4h1.2M369.3 187.3h1.2M367.3 180.0h1.2M368.7 191.1h1.2M364.4 184.5h1.2M370.5 184.8h1.2M363.3 182.3h1.2M366.0 186.3h1.2M366.6 192.7h1.2M364.4 187.3h1.2M367.3 179.9h1.2M368.6 192.9h1.2M360.8 180.6h1.2M360.9 177.1h1.2M364.3 176.4h1.2M367.1 191.4h1.2M360.9 184.2h1.2M361.1 189.3h1.2M362.9 184.1h1.2M365.3 187.4h1.2M364.0 185.2h1.2M363.6 185.7h1.2M362.2 185.8h1.2M360.0 183.6h1.2M369.2 184.6h1.2M362.1 186.7h1.2M361.3 177.9h1.2M363.7 188.6h1.2M365.6 184.4h1.2M361.8 180.5h1.2M368.0 185.6h1.2M360.9 175.8h1.2M363.6 196.8h1.2M362.1 185.1h1.2M365.1 184.2h1.2M363.0 178.9h1.2M363.7 193.1h1.2M363.7 189.1h1.2M360.7 184.4h1.2M366.2 189.6h1.2M362.7 188.1h1.2M365.1 181.5h1.2M365.1 180.7h1.2M363.0 185.2h1.2M361.3 178.8h1.2M364.4 188.6h1.2M364.9 190.9h1.2M361.1 179.5h1.2M368.6 186.2h1.2M366.3 180.9h1.2M366.8 185.9h1.2M366.3 184.9h1.2M367.0 181.6h1.2M361.4 178.7h1.2M366.8 181.2h1.2M361.7 181.2h1.2M362.8 179.4h1.2M363.6 182.3h1.2M362.8 180.9h1.2M364.5 182.9h1.2M365.2 186.1h1.2M363.8 174.9h1.2M362.9 181.6h1.2M365.3 177.5h1.2M362.9 184.0h1.2M364.8 189.6h1.2M364.5 189.5h1.2M360.0 177.4h1.2M367.9 186.5h1.2M366.0 185.4h1.2M364.9 179.3h1.2M366.5 182.2h1.2M367.1 185.0h1.2M359.3 180.0h1.2M367.2 183.9h1.2M364.1 186.3h1.2M363.4 182.7h1.2M365.1 185.6h1.2M368.2 184.6h1.2M370.5 192.4h1.2M369.5 189.1h1.2M365.2 185.6h1.2M363.9 181.7h1.2M364.1 182.1h1.2M368.9 186.8h1.2M362.2 176.5h1.2M364.3 183.1h1.2M361.4 180.3h1.2M360.1 188.5h1.2M366.7 196.7h1.2M364.6 184.3h1.2M368.2 185.0h1.2M364.9 183.2h1.2M364.6 192.0h1.2M368.4 192.4h1.2M364.0 185.3h1.2M363.6 189.7h1.2M362.1 188.1h1.2M368.4 191.0h1.2M363.5 190.3h1.2M362.6 181.9h1.2M362.7 190.8h1.2M368.0 181.6h1.2M362.8 183.8h1.2M371.3 188.5h1.2M362.1 177.1h1.2M364.2 190.6h1.2M368.8 183.0h1.2M362.8 183.0h1.2M361.2 189.9h1.2M363.2 190.2h1.2M359.9 179.9h1.2M364.8 181.4h1.2M366.6 184.7h1.2M362.6 188.3h1.2M365.2 176.0h1.2M369.3 186.5h1.2M365.0 176.3h1.2M362.9 183.7h1.2M366.0 178.0h1.2M361.2 176.2h1.2M364.5 186.7h1.2M360.5 183.0h1.2M367.2 192.0h1.2M366.0 183.4h1.2M361.4 181.2h1.2M363.4 185.9h1.2M366.0 192.6h1.2M364.6 180.0h1.2M369.0 188.7h1.2M364.4 181.7h1.2M359.7 181.1h1.2M366.2 181.0h1.2M361.9 186.4h1.2M365.8 187.6h1.2M367.4 191.1h1.2M363.7 189.8h1.2M363.1 188.5h1.2M365.4 186.0h1.2M367.0 184.5h1.2M368.0 188.5h1.2M364.6 182.4h1.2M362.6 182.9h1.2M364.3 185.0h1.2M365.8 180.8h1.2M362.9 183.8h1.2M364.4 180.2h1.2M368.0 181.8h1.2M365.4 174.0h1.2M365.0 186.3h1.2M365.7 187.6h1.2M365.5 185.6h1.2M359.9 182.5h1.2M360.0 188.8h1.2M365.3 184.0h1.2M362.4 182.7h1.2M370.3 192.1h1.2M365.7 190.9h1.2M359.6 176.9h1.2M363.0 181.2h1.2M363.7 186.1h1.2M365.1 186.2h1.2M365.4 189.2h1.2M367.8 178.7h1.2M364.9 183.7h1.2M364.4 177.9h1.2M358.9 175.2h1.2M366.1 185.7h1.2M363.1 174.2h1.2M363.3 181.7h1.2M360.8 181.4h1.2M366.8 187.2h1.2M365.1 187.3h1.2M363.5 185.6h1.2M365.3 187.5h1.2M364.5 184.4h1.2M364.0 182.1h1.2M372.6 188.6h1.2M368.6 201.7h1.2M367.9 174.6h1.2M368.0 191.5h1.2M372.2 194.3h1.2M366.3 177.5h1.2M362.5 188.3h1.2M365.6 178.7h1.2M363.4 183.4h1.2M365.5 188.3h1.2M362.9 177.6h1.2M370.5 196.5h1.2M365.6 193.2h1.2M367.0 190.4h1.2M365.8 180.5h1.2M367.8 192.7h1.2M364.1 200.0h1.2M373.4 197.7h1.2M372.0 190.3h1.2M363.3 182.0h1.2M362.5 187.2h1.2M365.5 190.7h1.2M360.8 202.9h1.2M372.2 184.8h1.2M367.6 189.0h1.2M365.6 184.4h1.2M363.8 180.3h1.2M365.5 185.8h1.2M365.2 179.9h1.2M365.1 186.3h1.2M365.9 178.4h1.2M367.3 192.6h1.2M366.5 183.2h1.2M363.2 184.6h1.2M368.8 196.4h1.2M363.8 181.6h1.2M366.4 187.2h1.2M361.4 181.3h1.2M365.3 190.7h1.2M360.2 179.5h1.2M365.4 177.3h1.2M365.7 188.4h1.2M363.6 179.0h1.2M364.5 183.7h1.2M365.2 180.0h1.2M366.8 173.9h1.2M364.4 186.1h1.2M367.4 181.4h1.2M366.2 181.8h1.2M369.0 197.7h1.2M364.1 189.2h1.2M363.0 193.2h1.2M368.8 185.7h1.2M361.8 189.3h1.2M369.7 193.0h1.2M365.8 172.9h1.2M364.2 196.2h1.2M362.2 194.4h1.2M371.7 190.4h1.2M368.2 183.2h1.2M361.0 185.8h1.2M364.3 185.8h1.2M367.0 184.7h1.2M366.0 188.9h1.2M366.8 198.8h1.2M366.5 186.4h1.2M363.7 181.8h1.2M369.4 186.4h1.2M361.0 182.6h1.2M364.1 183.0h1.2M367.3 177.5h1.2M366.7 186.8h1.2M361.3 186.9h1.2M365.2 189.5h1.2M363.8 188.3h1.2M358.6 179.2h1.2M368.5 192.9h1.2M364.4 181.9h1.2M366.4 171.0h1.2M363.1 191.0h1.2M366.0 178.6h1.2M360.4 196.9h1.2M364.6 179.7h1.2M366.0 192.2h1.2M365.3 171.2h1.2M365.7 173.3h1.2M369.0 188.3h1.2M371.5 180.8h1.2M366.0 193.3h1.2M362.3 181.4h1.2M363.7 185.7h1.2M362.0 189.8h1.2M366.8 186.3h1.2M370.0 183.0h1.2M368.6 181.6h1.2M365.5 172.3h1.2M365.4 184.7h1.2M362.8 182.0h1.2M363.2 181.2h1.2M357.4 182.8h1.2M362.7 182.6h1.2M361.5 185.5h1.2M367.2 183.9h1.2M364.7 195.6h1.2M369.0 192.0h1.2M368.3 183.2h1.2M365.6 193.8h1.2M363.1 185.4h1.2M366.5 188.4h1.2M365.1 192.9h1.2M365.1 191.1h1.2M369.0 190.1h1.2M366.2 177.6h1.2M360.2 182.3h1.2M367.9 196.2h1.2M361.4 188.7h1.2M361.6 181.3h1.2M364.8 190.9h1.2M366.8 194.1h1.2M362.7 192.6h1.2M368.0 186.1h1.2M365.9 181.9h1.2M361.1 183.7h1.2M365.0 197.7h1.2M365.9 188.1h1.2M366.6 180.3h1.2M368.2 188.2h1.2M360.8 190.8h1.2M367.2 188.9h1.2M369.6 182.4h1.2M367.3 191.0h1.2M363.3 194.7h1.2M359.1 177.6h1.2M365.6 178.2h1.2M363.0 174.6h1.2M364.1 178.1h1.2M364.6 175.2h1.2M366.1 184.0h1.2M365.1 185.5h1.2M364.1 176.8h1.2M361.6 183.3h1.2M364.4 172.0h1.2M362.0 182.1h1.2M361.9 188.7h1.2M363.7 180.4h1.2M362.6 192.0h1.2M363.5 190.3h1.2M364.6 172.7h1.2M361.5 186.5h1.2M366.8 191.3h1.2M366.4 181.9h1.2M361.7 172.5h1.2M364.7 170.3h1.2M364.1 161.0h1.2M364.6 172.4h1.2M358.6 182.5h1.2M363.9 174.0h1.2M359.5 170.7h1.2M366.2 166.9h1.2M359.5 173.4h1.2M360.9 166.9h1.2M361.8 182.6h1.2M361.2 190.1h1.2M360.2 165.6h1.2M365.8 178.2h1.2M360.9 180.3h1.2M356.8 167.4h1.2M365.8 171.5h1.2M359.9 178.6h1.2M365.5 173.5h1.2M357.6 172.0h1.2M365.0 179.9h1.2M367.8 171.3h1.2M361.6 173.9h1.2M365.3 166.1h1.2M364.4 168.3h1.2M365.0 179.3h1.2M359.6 173.8h1.2M364.3 178.6h1.2M359.3 166.5h1.2M362.2 172.3h1.2M359.9 181.9h1.2M363.1 185.6h1.2M365.4 173.8h1.2M363.8 164.9h1.2M365.1 196.3h1.2M363.1 199.5h1.2M367.0 206.2h1.2M363.7 197.0h1.2M367.7 200.8h1.2M366.1 196.6h1.2M367.9 200.6h1.2M361.4 198.4h1.2M362.0 193.6h1.2M366.8 199.2h1.2M366.1 194.6h1.2M365.2 194.6h1.2M367.8 202.3h1.2M371.8 204.6h1.2M364.0 197.0h1.2M364.2 200.9h1.2M372.0 201.8h1.2M359.8 193.6h1.2M363.4 202.0h1.2M366.6 200.5h1.2M361.4 214.5h1.2M367.4 211.0h1.2M357.4 158.0h1.2M360.4 157.0h1.2M363.4 160.0h1.2M356.4 161.0h1.2M368.9 206.0h1.2" stroke="#e0991f" stroke-width="1.2" fill="none"/>
<path d="M390.1 183.1h1.2M394.0 177.4h1.2M392.1 189.9h1.2M389.8 189.2h1.2M392.7 188.7h1.2M390.8 194.5h1.2M390.2 187.4h1.2M389.1 191.6h1.2M390.0 188.9h1.2M391.6 187.2h1.2M395.2 187.2h1.2M393.5 191.6h1.2M394.4 186.7h1.2M392.5 191.0h1.2M389.7 187.8h1.2M391.1 186.6h1.2M395.0 183.9h1.2M389.7 177.4h1.2M391.1 183.4h1.2M390.8 189.6h1.2M394.8 189.2h1.2M393.2 183.4h1.2M391.1 193.7h1.2M396.5 177.9h1.2M391.5 195.0h1.2M394.8 179.9h1.2M390.0 189.5h1.2M393.2 183.0h1.2M388.4 191.1h1.2M386.9 193.1h1.2M391.1 188.3h1.2M389.2 183.2h1.2M394.5 180.0h1.2M397.4 181.0h1.2M388.7 186.4h1.2M391.6 190.6h1.2M390.8 185.6h1.2M391.5 183.9h1.2M384.7 190.2h1.2M391.7 187.7h1.2M389.7 187.7h1.2M391.4 186.4h1.2M395.7 179.0h1.2M393.1 181.7h1.2M389.0 193.9h1.2M389.2 185.8h1.2M389.0 191.1h1.2M391.2 178.1h1.2M392.9 185.3h1.2M389.5 191.9h1.2M389.9 184.5h1.2M391.2 188.9h1.2M389.1 191.6h1.2M396.7 185.9h1.2M397.8 177.5h1.2M394.8 185.8h1.2M392.1 185.2h1.2M391.4 180.3h1.2M389.1 192.9h1.2M394.2 185.7h1.2M391.0 183.1h1.2M386.8 195.0h1.2M392.7 187.7h1.2M391.5 181.6h1.2M393.3 191.3h1.2M388.2 191.1h1.2M388.3 189.4h1.2M389.8 184.3h1.2M392.0 189.1h1.2M394.5 183.2h1.2M393.3 194.1h1.2M390.8 189.1h1.2M389.9 185.7h1.2M388.4 186.6h1.2M390.3 193.4h1.2M392.5 191.2h1.2M390.8 185.5h1.2M390.4 187.7h1.2M386.4 189.6h1.2M388.6 183.5h1.2M392.0 184.3h1.2M395.1 187.2h1.2M393.4 193.3h1.2M389.9 188.5h1.2M394.5 185.8h1.2M392.2 184.1h1.2M391.9 185.1h1.2M390.4 191.7h1.2M394.2 188.1h1.2M390.8 191.1h1.2M391.9 181.5h1.2M394.8 182.8h1.2M394.5 182.6h1.2M396.5 182.6h1.2M391.5 194.5h1.2M387.6 193.5h1.2M391.6 177.8h1.2M392.1 190.6h1.2M393.8 174.4h1.2M391.6 185.3h1.2M390.9 185.2h1.2M388.2 183.2h1.2M393.5 195.2h1.2M391.4 183.2h1.2M391.0 192.2h1.2M394.2 181.5h1.2M391.6 187.6h1.2M393.1 193.3h1.2M391.1 193.0h1.2M388.8 194.1h1.2M390.0 188.5h1.2M394.4 182.8h1.2M391.8 177.9h1.2M391.8 186.6h1.2M390.1 189.1h1.2M386.8 185.6h1.2M391.9 185.5h1.2M391.1 195.7h1.2M391.5 182.0h1.2M390.0 187.0h1.2M393.6 182.9h1.2M394.7 182.3h1.2M392.7 189.3h1.2M389.9 197.5h1.2M391.0 185.9h1.2M391.4 191.2h1.2M388.2 187.5h1.2M389.1 189.5h1.2M394.3 187.7h1.2M390.9 187.6h1.2M392.4 187.9h1.2M391.3 183.0h1.2M389.6 192.6h1.2M389.6 193.3h1.2M386.4 183.3h1.2M392.0 186.9h1.2M388.6 182.7h1.2M395.5 181.1h1.2M390.5 181.0h1.2M389.5 189.7h1.2M394.9 177.2h1.2M395.2 184.6h1.2M388.2 194.6h1.2M392.6 180.7h1.2M390.8 182.9h1.2M389.6 184.7h1.2M392.9 188.9h1.2M389.1 186.9h1.2M390.6 190.5h1.2M390.2 188.9h1.2M395.8 188.3h1.2M388.7 187.9h1.2M390.1 184.6h1.2M391.4 188.5h1.2M389.8 190.8h1.2M392.4 180.4h1.2M393.7 185.5h1.2M394.7 184.2h1.2M392.3 188.6h1.2M387.2 178.2h1.2M387.4 193.1h1.2M386.3 190.3h1.2M393.2 189.8h1.2M393.4 184.7h1.2M391.1 187.9h1.2M391.5 190.4h1.2M391.7 183.3h1.2M389.7 188.5h1.2M389.2 179.9h1.2M391.1 183.9h1.2M393.8 173.7h1.2M390.9 185.4h1.2M395.3 177.6h1.2M390.2 189.0h1.2M391.1 192.9h1.2M394.8 182.2h1.2M393.1 185.5h1.2M387.9 193.9h1.2M391.0 182.3h1.2M391.5 182.4h1.2M393.1 189.2h1.2M393.9 189.5h1.2M388.9 191.6h1.2M390.5 184.2h1.2M391.0 186.9h1.2M394.6 184.4h1.2M392.2 186.8h1.2M389.9 180.8h1.2M390.4 188.7h1.2M391.5 189.3h1.2M392.0 184.6h1.2M393.4 182.1h1.2M388.9 184.5h1.2M388.9 183.6h1.2M390.4 183.7h1.2M392.2 182.9h1.2M392.4 178.2h1.2M392.7 182.6h1.2M389.4 187.6h1.2M386.5 183.8h1.2M391.5 187.4h1.2M387.9 187.2h1.2M392.8 182.1h1.2M393.0 186.9h1.2M391.9 184.6h1.2M392.4 187.5h1.2M393.3 189.6h1.2M390.3 185.4h1.2M393.8 185.5h1.2M391.6 189.5h1.2M393.6 175.3h1.2M391.4 187.9h1.2M392.5 183.1h1.2M394.1 186.7h1.2M390.8 183.0h1.2M393.4 181.6h1.2M386.9 196.1h1.2M393.0 192.6h1.2M393.7 190.4h1.2M386.4 191.8h1.2M393.5 189.8h1.2M385.7 191.9h1.2M394.9 185.1h1.2M390.8 190.7h1.2M389.9 192.1h1.2M390.8 190.2h1.2M393.2 179.6h1.2M390.5 193.4h1.2M391.9 195.8h1.2M393.3 184.2h1.2M393.6 177.4h1.2M389.9 191.2h1.2M386.5 186.7h1.2M391.7 193.7h1.2M390.1 183.1h1.2M388.5 180.8h1.2M390.2 197.2h1.2M387.3 193.0h1.2M392.9 184.6h1.2M399.0 175.5h1.2M391.0 187.8h1.2M394.0 196.7h1.2M396.2 188.6h1.2M392.0 194.0h1.2M392.1 188.8h1.2M391.4 184.7h1.2M386.5 195.8h1.2M392.8 176.3h1.2M392.0 186.8h1.2M389.7 195.8h1.2M391.4 185.4h1.2M389.8 186.3h1.2M390.2 187.6h1.2M387.3 195.9h1.2M392.3 191.3h1.2M392.0 191.2h1.2M391.2 194.1h1.2M392.0 194.0h1.2M390.3 186.5h1.2M388.7 191.2h1.2M393.7 184.9h1.2M389.7 200.0h1.2M395.3 181.9h1.2M390.5 189.9h1.2M390.9 188.7h1.2M393.6 189.0h1.2M388.2 189.8h1.2M391.0 187.3h1.2M391.7 179.7h1.2M389.1 184.4h1.2M395.2 181.6h1.2M389.2 189.1h1.2M384.6 192.2h1.2M388.9 189.7h1.2M390.0 188.1h1.2M391.6 186.8h1.2M389.1 178.6h1.2M389.7 193.7h1.2M389.6 189.2h1.2M391.2 189.3h1.2M395.2 179.9h1.2M392.2 186.1h1.2M391.7 182.4h1.2M390.8 181.3h1.2M386.1 198.6h1.2M395.1 187.7h1.2M394.1 182.4h1.2M390.0 194.0h1.2M392.4 181.8h1.2M392.0 181.8h1.2M388.6 185.0h1.2M391.4 182.6h1.2M390.5 181.8h1.2M390.3 193.8h1.2M388.4 197.7h1.2M387.5 187.3h1.2M389.0 185.4h1.2M391.0 189.6h1.2M394.5 184.6h1.2M388.9 185.2h1.2M392.8 183.5h1.2M391.4 195.6h1.2M387.9 187.9h1.2M395.8 177.8h1.2M392.1 185.8h1.2M386.8 192.6h1.2M392.4 184.5h1.2M391.6 190.2h1.2M392.4 190.1h1.2M393.6 181.2h1.2M390.3 187.2h1.2M391.7 181.4h1.2M387.1 187.1h1.2M392.1 183.9h1.2M391.5 182.2h1.2M389.8 185.9h1.2M389.2 189.8h1.2M390.9 187.4h1.2M390.8 193.3h1.2M392.4 188.2h1.2M391.9 182.7h1.2M389.8 190.0h1.2M392.3 185.0h1.2M390.2 178.6h1.2M390.9 192.0h1.2M393.8 180.2h1.2M390.7 187.8h1.2M389.0 188.0h1.2M391.9 182.6h1.2M387.7 190.2h1.2M393.2 182.6h1.2M388.1 190.7h1.2M393.0 185.6h1.2M395.2 186.2h1.2M387.8 191.7h1.2M390.6 188.4h1.2M392.6 181.9h1.2M389.0 185.2h1.2M395.6 182.6h1.2M394.1 188.6h1.2M388.6 187.6h1.2M393.6 182.6h1.2M386.3 187.5h1.2M388.5 188.4h1.2M387.4 185.1h1.2M391.3 179.1h1.2M390.7 187.5h1.2M391.5 180.7h1.2M393.8 178.3h1.2M392.0 189.5h1.2M394.0 192.0h1.2M391.8 188.3h1.2M392.9 180.3h1.2M394.0 190.1h1.2M392.1 181.0h1.2M394.0 190.2h1.2M388.0 189.5h1.2M395.5 187.6h1.2M392.7 185.0h1.2M388.8 191.8h1.2M390.2 190.6h1.2M389.9 190.2h1.2M394.3 182.2h1.2M389.1 185.9h1.2M392.9 188.6h1.2M395.6 180.7h1.2M393.2 184.0h1.2M391.2 188.4h1.2M389.5 185.2h1.2M388.5 187.5h1.2M390.1 183.9h1.2M392.6 183.7h1.2M394.6 184.2h1.2M392.9 188.6h1.2M389.4 185.2h1.2M390.0 184.6h1.2M388.7 195.6h1.2M388.7 194.3h1.2M393.8 180.6h1.2M385.6 189.0h1.2M384.2 189.9h1.2M393.9 189.5h1.2M391.1 184.1h1.2M392.6 184.0h1.2M390.3 183.0h1.2M395.9 182.3h1.2M394.3 178.0h1.2M391.3 175.6h1.2M389.7 190.8h1.2M393.1 182.6h1.2M393.8 183.9h1.2M392.1 188.2h1.2M396.8 168.5h1.2M386.2 190.7h1.2M387.6 202.1h1.2M391.5 181.9h1.2M395.1 191.0h1.2M396.3 190.9h1.2M389.7 191.1h1.2M389.7 182.3h1.2M390.0 184.0h1.2M394.5 183.0h1.2M393.1 182.6h1.2M390.5 187.1h1.2M386.6 192.6h1.2M390.1 195.3h1.2M393.3 191.2h1.2M392.6 178.1h1.2M391.4 182.6h1.2M392.8 182.8h1.2M395.6 183.4h1.2M389.2 192.5h1.2M393.2 177.3h1.2M392.9 184.9h1.2M384.8 186.1h1.2M389.3 180.0h1.2M392.4 188.5h1.2M387.2 201.4h1.2M393.6 181.9h1.2M392.3 185.3h1.2M387.1 173.3h1.2M384.0 199.9h1.2M391.2 183.9h1.2M388.2 192.7h1.2M388.9 198.3h1.2M391.2 198.3h1.2M390.4 188.6h1.2M390.3 184.5h1.2M387.0 180.7h1.2M389.5 180.7h1.2M394.6 188.7h1.2M393.8 192.9h1.2M392.6 193.8h1.2M388.3 191.4h1.2M391.2 182.0h1.2M391.7 202.3h1.2M385.8 197.8h1.2M395.2 180.5h1.2M391.6 188.8h1.2M393.1 183.7h1.2M387.4 185.4h1.2M392.8 192.2h1.2M391.7 194.3h1.2M388.4 185.1h1.2M390.9 193.4h1.2M391.1 189.8h1.2M388.6 201.1h1.2M384.8 184.4h1.2M398.5 189.3h1.2M385.6 185.8h1.2M388.1 180.2h1.2M389.4 198.4h1.2M391.8 191.1h1.2M394.1 188.1h1.2M388.9 184.7h1.2M392.8 184.2h1.2M389.9 183.0h1.2M388.4 177.7h1.2M391.7 183.4h1.2M389.4 196.1h1.2M392.3 186.0h1.2M389.5 177.5h1.2M393.8 180.0h1.2M394.3 178.6h1.2M391.9 185.6h1.2M395.0 183.8h1.2M389.9 187.5h1.2M389.0 198.1h1.2M391.4 182.0h1.2M389.7 189.2h1.2M391.0 191.1h1.2M383.4 202.8h1.2M397.0 187.0h1.2M387.5 186.3h1.2M396.0 170.3h1.2M393.7 175.4h1.2M390.7 196.2h1.2M396.8 175.9h1.2M394.2 193.4h1.2M389.5 189.4h1.2M396.4 184.6h1.2M392.2 182.0h1.2M398.1 171.3h1.2M397.1 180.0h1.2M396.6 175.0h1.2M389.5 181.1h1.2M396.3 174.9h1.2M394.2 181.8h1.2M395.6 184.6h1.2M393.1 185.1h1.2M397.3 184.6h1.2M388.3 200.2h1.2M390.6 191.0h1.2M388.9 187.0h1.2M384.4 185.3h1.2M391.7 174.8h1.2M385.4 193.3h1.2M395.0 175.4h1.2M397.9 182.2h1.2M389.9 187.5h1.2M390.4 173.7h1.2M387.3 194.0h1.2M396.6 175.3h1.2M394.9 187.0h1.2M392.8 186.7h1.2M394.1 179.1h1.2M389.7 180.4h1.2M389.3 190.2h1.2M385.3 196.6h1.2M390.4 181.4h1.2M392.8 189.6h1.2M392.0 178.1h1.2M390.8 173.9h1.2M393.2 194.5h1.2M396.2 190.8h1.2M391.2 191.6h1.2M394.6 184.8h1.2M389.2 201.6h1.2M388.4 174.9h1.2M387.3 190.8h1.2M395.5 184.3h1.2M393.5 186.1h1.2M393.1 182.3h1.2M391.3 185.9h1.2M391.4 202.7h1.2M385.1 188.6h1.2M389.9 192.9h1.2M393.4 192.3h1.2M395.3 179.7h1.2M383.7 196.9h1.2M396.5 180.0h1.2M394.3 191.6h1.2M382.6 190.9h1.2M386.6 193.7h1.2M390.5 180.2h1.2M387.0 183.5h1.2M395.5 181.8h1.2M382.5 200.2h1.2M395.9 192.1h1.2M391.6 177.0h1.2M385.6 188.9h1.2M396.9 179.2h1.2M391.8 184.0h1.2M389.8 189.4h1.2M398.7 182.8h1.2M392.3 194.3h1.2M390.7 184.8h1.2M385.7 192.9h1.2M390.8 181.0h1.2M392.9 179.9h1.2M388.7 183.2h1.2M396.2 185.5h1.2M395.2 175.8h1.2M382.7 197.8h1.2M392.5 174.7h1.2M390.1 190.3h1.2M387.5 178.6h1.2M393.6 179.6h1.2M392.3 193.4h1.2M393.4 183.2h1.2M392.2 181.4h1.2M390.5 188.2h1.2M389.0 192.8h1.2M391.2 192.1h1.2M393.7 184.7h1.2M388.4 192.9h1.2M392.5 190.0h1.2M388.0 190.0h1.2M394.1 185.2h1.2M390.0 202.0h1.2M384.8 189.2h1.2M389.9 175.5h1.2M389.8 189.8h1.2M393.3 177.7h1.2M387.9 181.1h1.2M392.7 180.0h1.2M384.1 197.6h1.2M389.1 184.3h1.2M390.6 181.4h1.2M392.0 183.9h1.2M395.1 177.9h1.2M383.9 199.1h1.2M390.0 191.5h1.2M394.1 190.7h1.2M393.9 174.8h1.2M385.0 192.0h1.2M392.6 190.5h1.2M389.6 169.6h1.2M390.0 176.8h1.2M393.4 178.7h1.2M397.1 182.5h1.2M388.3 191.9h1.2M393.7 179.7h1.2M390.9 200.4h1.2M388.0 183.4h1.2M391.1 171.3h1.2M392.2 191.4h1.2M393.7 189.7h1.2M385.3 184.5h1.2M391.1 177.1h1.2M386.8 190.8h1.2M387.5 200.0h1.2M395.7 172.5h1.2M392.2 195.6h1.2M393.3 177.3h1.2M398.8 177.7h1.2M394.0 172.2h1.2M390.2 172.9h1.2M392.9 195.2h1.2M392.2 175.9h1.2M390.2 178.9h1.2M388.1 166.3h1.2M389.6 181.3h1.2M390.5 179.5h1.2M393.0 169.1h1.2M391.0 173.0h1.2M393.3 170.3h1.2M395.0 177.0h1.2M391.5 181.1h1.2M393.3 179.6h1.2M386.7 170.3h1.2M395.6 180.6h1.2M391.9 179.9h1.2M389.9 170.5h1.2M387.4 184.6h1.2M389.5 189.9h1.2M389.7 190.8h1.2M393.8 167.1h1.2M395.4 179.5h1.2M394.0 178.3h1.2M389.7 177.1h1.2M389.3 166.2h1.2M389.0 171.5h1.2M387.1 174.5h1.2M389.0 191.8h1.2M396.3 176.6h1.2M393.7 174.8h1.2M392.1 175.9h1.2M389.2 176.3h1.2M386.0 178.6h1.2M391.5 167.5h1.2M389.1 180.1h1.2M388.3 179.3h1.2M390.4 188.4h1.2M387.9 174.6h1.2M390.3 187.9h1.2M390.6 182.0h1.2M387.4 170.7h1.2M396.1 174.6h1.2M398.2 171.5h1.2M390.3 194.7h1.2M391.3 202.3h1.2M394.9 202.5h1.2M390.2 195.4h1.2M389.0 204.6h1.2M390.9 206.1h1.2M392.1 201.2h1.2M391.3 201.9h1.2M385.3 207.1h1.2M391.5 197.1h1.2M390.7 202.3h1.2M391.4 207.1h1.2M394.4 198.0h1.2M385.0 201.3h1.2M390.5 202.5h1.2M387.4 198.7h1.2M389.9 204.0h1.2M395.2 203.1h1.2M392.7 201.0h1.2M390.3 197.1h1.2" stroke="#e0991f" stroke-width="1.2" fill="none"/>
<path d="M381.4 164.6h1.2M375.2 178.2h1.2M378.5 164.7h1.2M374.1 160.6h1.2M377.3 173.5h1.2M377.5 165.0h1.2M375.4 177.9h1.2M374.0 169.1h1.2M377.4 171.6h1.2M376.6 170.9h1.2M379.3 167.9h1.2M376.7 167.5h1.2M375.7 167.3h1.2M376.9 169.5h1.2M379.8 175.2h1.2M376.5 171.4h1.2M377.9 172.3h1.2M377.5 169.8h1.2M376.9 164.5h1.2M378.9 175.1h1.2M378.7 170.8h1.2M378.3 166.3h1.2M373.8 171.6h1.2M378.2 165.8h1.2M375.2 174.7h1.2M373.4 177.0h1.2M376.2 168.3h1.2M376.5 169.2h1.2M377.4 164.7h1.2M380.0 164.7h1.2M376.4 171.2h1.2M376.7 166.3h1.2M378.4 166.7h1.2M375.1 167.8h1.2M376.5 177.0h1.2M375.0 173.2h1.2M376.1 166.6h1.2M376.8 169.8h1.2M378.7 177.3h1.2M375.8 175.0h1.2M379.3 172.7h1.2M375.7 172.9h1.2M377.2 170.2h1.2M376.8 171.8h1.2M379.4 174.3h1.2M376.8 173.4h1.2M380.8 164.0h1.2M381.0 162.0h1.2M378.5 171.5h1.2M380.4 170.1h1.2M376.9 164.5h1.2M374.8 172.1h1.2M377.4 164.9h1.2M378.9 164.8h1.2M376.9 166.2h1.2M380.4 176.0h1.2M377.8 160.6h1.2M378.1 168.9h1.2M378.1 171.4h1.2M376.6 173.1h1.2M380.2 168.8h1.2M376.8 163.3h1.2M380.4 158.9h1.2M377.7 161.4h1.2M373.3 171.2h1.2M377.7 167.3h1.2M381.2 156.0h1.2M377.4 169.1h1.2M380.8 159.1h1.2M379.8 168.8h1.2M381.2 175.8h1.2M378.3 183.2h1.2M378.0 163.8h1.2M377.2 159.9h1.2M378.7 152.9h1.2M377.3 170.2h1.2M380.9 164.6h1.2M382.3 162.4h1.2M378.4 152.9h1.2M375.9 160.9h1.2M381.9 171.2h1.2M374.3 170.7h1.2M379.3 165.4h1.2M378.0 164.8h1.2M377.1 153.9h1.2M376.9 176.4h1.2M382.1 165.3h1.2M375.7 165.3h1.2M380.2 169.8h1.2M375.9 169.5h1.2M376.9 170.7h1.2M377.3 156.2h1.2M377.6 172.6h1.2M374.6 166.0h1.2M380.5 164.4h1.2M374.8 181.7h1.2M379.7 174.7h1.2M374.2 178.7h1.2M373.2 162.9h1.2M379.3 176.8h1.2M371.4 156.0h1.2M373.4 157.0h1.2M381.4 155.0h1.2M384.4 149.0h1.2M378.4 184.0h1.2M381.4 187.0h1.2" stroke="#b0112f" stroke-width="1.2" fill="none"/>
<path d="M405.8 157.9h1.2M401.1 167.1h1.2M399.5 173.2h1.2M400.7 166.8h1.2M405.7 159.2h1.2M400.3 166.5h1.2M404.6 163.1h1.2M402.2 169.0h1.2M400.3 157.8h1.2M397.6 166.0h1.2M400.3 170.2h1.2M403.9 164.2h1.2M402.1 171.4h1.2M401.3 169.2h1.2M397.5 167.2h1.2M400.8 159.6h1.2M400.0 166.8h1.2M401.5 164.7h1.2M398.5 166.6h1.2M401.9 158.7h1.2M398.7 173.9h1.2M402.0 160.7h1.2M401.2 176.2h1.2M400.8 165.1h1.2M399.6 171.6h1.2M405.3 157.5h1.2M400.7 159.3h1.2M401.9 167.3h1.2M405.6 166.4h1.2M401.6 167.0h1.2M397.3 178.3h1.2M399.1 174.1h1.2M405.1 164.3h1.2M403.3 165.0h1.2M401.0 167.3h1.2M401.9 164.0h1.2M405.1 166.3h1.2M399.7 175.5h1.2M400.7 172.1h1.2M402.3 173.0h1.2M407.5 160.5h1.2M405.5 168.1h1.2M398.2 161.8h1.2M398.0 165.2h1.2M399.5 160.1h1.2M401.5 167.4h1.2M399.7 164.6h1.2M400.7 166.7h1.2M401.4 165.3h1.2M405.9 158.9h1.2M399.7 166.7h1.2M401.1 163.3h1.2M399.7 167.1h1.2M404.2 166.4h1.2M399.8 168.0h1.2M403.9 156.3h1.2M402.3 164.7h1.2M398.7 169.2h1.2M402.2 163.6h1.2M399.2 155.9h1.2M401.3 165.8h1.2M401.7 167.9h1.2M402.2 159.6h1.2M398.8 164.8h1.2M397.1 169.4h1.2M401.2 156.2h1.2M403.8 157.2h1.2M406.5 162.6h1.2M401.4 165.1h1.2M402.3 156.7h1.2M395.3 169.4h1.2M399.6 178.2h1.2M396.8 168.1h1.2M399.6 170.7h1.2M398.6 169.7h1.2M402.0 170.2h1.2M404.7 166.6h1.2M405.8 164.0h1.2M402.5 162.3h1.2M399.3 171.7h1.2M402.5 167.4h1.2M407.5 160.2h1.2M396.6 173.5h1.2M405.5 156.1h1.2M403.9 160.6h1.2M402.4 173.4h1.2M397.6 172.6h1.2M397.6 170.4h1.2M402.6 166.2h1.2M398.3 163.9h1.2M396.9 161.7h1.2M394.7 171.2h1.2M403.2 153.2h1.2M401.8 168.7h1.2M396.2 176.8h1.2M402.7 167.3h1.2M400.5 171.7h1.2M402.2 158.7h1.2M403.9 157.8h1.2M399.7 170.3h1.2M404.0 168.9h1.2M400.2 170.4h1.2M404.8 165.9h1.2M399.7 161.4h1.2M399.8 160.9h1.2M400.2 168.1h1.2M401.3 166.9h1.2M399.5 168.3h1.2M401.7 171.0h1.2M405.0 166.1h1.2M397.5 174.9h1.2M400.8 168.7h1.2M398.6 171.1h1.2M401.9 160.9h1.2M401.7 164.1h1.2M403.6 165.1h1.2M401.7 165.4h1.2M403.0 163.4h1.2M406.1 160.0h1.2M401.4 162.5h1.2M402.5 167.1h1.2M402.8 165.1h1.2M401.4 160.1h1.2M401.3 163.4h1.2M401.1 168.4h1.2M403.5 166.6h1.2M401.2 160.4h1.2M400.6 168.3h1.2M405.2 168.9h1.2M401.8 177.3h1.2M396.6 171.8h1.2M401.3 174.2h1.2M399.4 171.3h1.2M400.1 165.7h1.2M398.0 175.5h1.2M398.9 171.1h1.2M402.5 162.8h1.2M400.5 170.0h1.2M398.3 169.1h1.2M401.0 161.4h1.2M402.0 165.4h1.2M401.7 157.3h1.2M400.7 167.7h1.2M399.7 167.0h1.2M396.9 167.2h1.2M401.5 168.1h1.2M399.5 166.3h1.2M399.5 172.0h1.2M401.3 167.9h1.2M397.9 170.2h1.2M404.6 164.8h1.2M402.0 168.5h1.2M403.2 159.8h1.2M408.3 158.2h1.2M402.4 164.7h1.2M404.4 165.1h1.2M400.1 169.5h1.2M403.0 164.1h1.2M401.9 168.9h1.2M404.2 164.6h1.2M401.7 164.4h1.2M398.7 167.0h1.2M399.5 174.0h1.2M399.7 168.1h1.2M403.9 166.7h1.2M401.0 167.1h1.2M401.2 160.8h1.2M403.3 168.2h1.2M403.1 160.0h1.2M399.3 172.5h1.2M400.0 161.0h1.2M401.1 174.5h1.2M405.6 164.8h1.2M403.7 163.0h1.2M402.9 164.9h1.2M399.2 173.4h1.2M402.3 165.4h1.2M400.7 167.8h1.2M399.6 167.1h1.2M399.7 174.8h1.2M398.5 158.8h1.2M396.8 169.9h1.2M406.2 169.3h1.2M399.4 172.3h1.2M395.9 163.6h1.2M400.8 163.5h1.2M402.9 163.7h1.2M403.6 167.2h1.2M397.5 179.6h1.2M398.4 170.7h1.2M397.0 172.1h1.2M403.0 167.9h1.2M400.5 175.3h1.2M404.2 167.5h1.2M399.0 172.0h1.2M398.8 162.2h1.2M401.2 169.7h1.2M402.2 176.8h1.2M401.0 168.9h1.2M398.4 164.4h1.2M402.1 165.5h1.2M400.2 169.5h1.2M399.9 162.8h1.2M395.1 170.8h1.2M401.7 157.0h1.2M403.2 165.9h1.2M403.9 165.3h1.2M404.6 171.7h1.2M401.2 167.1h1.2M399.2 170.3h1.2M406.3 165.8h1.2M397.6 168.6h1.2M406.1 159.7h1.2M401.3 160.8h1.2M401.5 169.4h1.2M401.4 160.1h1.2M406.2 156.6h1.2M402.8 166.1h1.2M403.7 172.9h1.2M400.3 164.6h1.2M401.7 162.5h1.2M399.6 171.3h1.2M398.1 164.1h1.2M403.1 171.3h1.2M400.7 161.7h1.2M401.9 157.7h1.2M403.5 167.6h1.2M402.0 158.6h1.2M401.1 163.5h1.2M405.7 165.4h1.2M399.5 171.9h1.2M402.9 166.0h1.2M393.8 171.8h1.2M403.2 164.7h1.2M402.5 161.5h1.2M401.6 158.3h1.2M401.3 169.4h1.2M400.1 170.5h1.2M402.1 167.4h1.2M398.1 168.7h1.2M402.6 170.5h1.2M404.7 165.0h1.2M396.7 171.9h1.2M399.4 167.2h1.2M400.6 166.4h1.2M401.4 163.5h1.2M393.8 174.6h1.2M404.9 156.9h1.2M401.0 160.1h1.2M403.8 153.1h1.2M399.5 175.1h1.2M399.2 169.9h1.2M404.6 160.6h1.2M406.7 158.9h1.2M400.4 164.2h1.2M403.7 168.0h1.2M402.2 162.3h1.2M401.2 166.7h1.2M400.3 173.9h1.2M402.7 167.1h1.2M398.0 174.3h1.2M401.5 166.5h1.2M402.4 175.6h1.2M402.5 166.3h1.2M397.8 171.2h1.2M398.4 170.9h1.2M399.2 166.3h1.2M401.7 167.4h1.2M400.9 168.5h1.2M400.5 160.0h1.2M397.6 175.3h1.2M402.4 161.7h1.2M399.6 166.1h1.2M404.7 164.5h1.2M402.0 167.8h1.2M401.9 161.4h1.2M402.0 162.7h1.2M405.3 158.0h1.2M402.3 171.0h1.2M399.8 174.3h1.2M405.3 158.3h1.2M400.4 168.7h1.2M401.5 160.2h1.2M401.2 169.3h1.2M400.5 164.9h1.2M400.9 163.2h1.2M399.1 171.7h1.2M398.1 163.5h1.2M404.1 169.2h1.2M400.0 170.7h1.2M400.9 159.6h1.2M399.9 157.9h1.2M400.2 170.8h1.2M401.3 162.7h1.2M400.9 169.8h1.2M404.9 157.1h1.2M404.2 153.4h1.2M403.1 162.4h1.2M397.0 173.4h1.2M403.2 169.8h1.2M401.4 167.5h1.2M399.9 165.7h1.2M406.8 163.5h1.2M399.3 166.7h1.2M401.6 171.2h1.2M399.2 165.0h1.2M402.6 160.1h1.2M402.1 164.1h1.2M402.4 169.3h1.2M399.2 166.2h1.2M401.4 163.0h1.2M398.2 171.3h1.2M403.1 157.6h1.2M398.0 169.8h1.2M407.6 162.8h1.2M400.9 164.5h1.2M397.3 167.3h1.2M400.5 167.7h1.2M406.5 166.8h1.2M401.4 171.1h1.2M400.7 163.0h1.2M403.3 171.1h1.2M403.3 161.1h1.2M402.1 169.7h1.2M403.4 175.4h1.2M402.4 168.3h1.2M402.2 163.7h1.2M401.3 167.8h1.2M400.7 172.3h1.2M402.7 163.9h1.2M400.2 174.7h1.2M398.5 167.9h1.2M401.4 169.5h1.2M402.3 166.3h1.2M398.0 174.7h1.2M407.3 160.8h1.2M394.7 166.6h1.2M400.5 163.3h1.2M397.0 166.9h1.2M401.9 163.7h1.2M398.9 179.2h1.2M402.3 173.3h1.2M399.0 169.4h1.2M399.0 172.1h1.2M402.4 166.7h1.2M403.5 163.3h1.2M400.3 174.5h1.2M399.3 168.9h1.2M395.8 169.8h1.2M404.8 162.0h1.2M404.7 168.3h1.2M399.6 158.3h1.2M403.5 165.7h1.2M406.2 159.5h1.2M399.2 171.2h1.2M398.4 169.3h1.2M399.7 167.8h1.2M398.0 177.7h1.2M397.0 169.3h1.2M405.9 161.8h1.2M397.3 177.9h1.2M403.5 157.7h1.2M403.0 163.0h1.2M401.3 161.8h1.2M402.5 164.3h1.2M399.5 164.6h1.2M403.4 162.5h1.2M406.4 159.0h1.2M402.6 164.8h1.2M405.6 164.4h1.2M401.9 159.2h1.2M404.4 171.0h1.2M399.3 163.9h1.2M396.4 173.2h1.2M405.5 156.6h1.2M400.0 171.1h1.2M400.3 168.8h1.2M400.5 167.4h1.2M402.8 163.1h1.2M401.6 167.5h1.2M402.2 163.0h1.2M398.4 166.9h1.2M407.0 155.0h1.2M397.6 172.7h1.2M404.3 163.6h1.2M405.7 162.5h1.2M396.0 175.4h1.2M400.5 165.0h1.2M399.2 160.1h1.2M398.7 164.8h1.2M395.2 170.3h1.2M401.3 163.1h1.2M398.4 169.6h1.2M405.2 165.5h1.2M401.9 175.6h1.2M403.5 168.9h1.2M396.6 168.6h1.2M399.8 167.1h1.2M397.4 163.6h1.2M403.2 161.9h1.2M398.9 174.9h1.2M402.8 163.2h1.2M410.0 157.5h1.2M398.3 167.7h1.2M403.7 154.6h1.2M400.2 170.7h1.2M396.8 173.1h1.2M400.1 172.7h1.2M397.7 165.2h1.2M401.2 177.6h1.2M404.0 167.4h1.2M402.6 163.4h1.2M404.7 163.8h1.2M404.9 156.2h1.2M394.7 174.1h1.2M400.8 167.5h1.2M396.3 164.6h1.2M408.2 160.5h1.2M396.1 163.8h1.2M400.3 164.9h1.2M400.6 154.6h1.2M395.8 169.5h1.2M399.1 172.1h1.2M396.4 169.3h1.2M399.7 166.2h1.2M404.1 167.2h1.2M404.2 153.3h1.2M399.6 171.9h1.2M399.4 164.9h1.2M398.9 154.3h1.2M399.4 176.1h1.2M404.3 153.2h1.2M403.9 154.0h1.2M395.7 180.1h1.2M402.6 165.2h1.2M405.5 164.2h1.2M401.8 167.8h1.2M406.2 155.5h1.2M401.4 173.3h1.2M394.8 176.2h1.2M399.7 171.1h1.2M400.9 173.2h1.2M400.7 161.0h1.2M401.0 170.9h1.2M402.3 169.1h1.2M397.1 173.8h1.2M400.2 174.4h1.2M393.0 165.1h1.2M398.9 166.2h1.2M400.5 163.2h1.2M401.0 168.8h1.2M397.5 169.3h1.2M397.5 168.3h1.2M402.4 158.6h1.2M401.0 179.6h1.2M401.1 165.5h1.2M407.6 157.0h1.2M395.7 173.6h1.2M405.4 163.2h1.2M397.9 167.8h1.2M398.0 160.8h1.2M401.3 172.4h1.2M408.2 156.3h1.2M399.2 158.5h1.2M392.1 180.1h1.2M398.9 162.6h1.2M400.8 169.6h1.2M408.6 159.3h1.2M403.7 168.0h1.2M397.2 165.9h1.2M392.8 176.8h1.2M396.5 172.8h1.2M407.0 162.7h1.2M398.1 166.1h1.2M395.7 171.7h1.2M403.7 160.4h1.2M397.3 170.8h1.2M392.5 177.2h1.2M399.2 163.7h1.2M394.3 177.3h1.2M400.7 176.7h1.2M403.2 167.4h1.2M405.1 172.8h1.2M401.3 170.8h1.2M403.0 168.9h1.2M404.7 153.7h1.2M411.1 158.3h1.2M396.1 158.3h1.2M404.5 177.3h1.2M398.7 167.4h1.2M406.1 150.9h1.2M399.5 167.9h1.2M408.0 158.1h1.2M397.9 151.7h1.2M402.1 167.0h1.2M401.4 167.3h1.2M403.5 155.3h1.2M401.8 169.4h1.2M400.1 176.1h1.2M403.0 146.9h1.2M390.2 180.4h1.2M397.3 168.1h1.2M399.4 171.5h1.2M402.2 161.3h1.2M400.8 170.2h1.2M394.9 175.0h1.2M403.9 170.6h1.2M401.5 164.1h1.2M394.3 169.3h1.2M399.4 161.2h1.2M406.8 160.1h1.2M397.5 172.0h1.2M409.0 162.7h1.2M406.5 162.2h1.2M401.3 170.1h1.2M395.1 172.6h1.2M407.0 168.3h1.2M405.0 157.4h1.2M406.9 168.4h1.2M395.3 170.5h1.2M398.2 159.2h1.2M391.0 174.2h1.2M410.0 163.5h1.2M400.6 160.9h1.2M398.1 169.6h1.2M408.5 159.9h1.2M407.2 152.7h1.2M406.4 166.9h1.2M395.2 176.9h1.2M397.5 176.3h1.2M400.7 179.7h1.2M398.5 165.6h1.2M402.9 164.9h1.2M408.0 162.2h1.2M401.1 177.4h1.2M397.4 156.6h1.2M399.7 160.9h1.2M403.0 165.1h1.2M402.7 162.6h1.2M399.8 169.6h1.2M405.6 160.8h1.2M402.8 160.1h1.2M404.2 154.9h1.2M402.7 172.1h1.2M402.6 160.7h1.2M401.4 160.5h1.2M392.2 176.8h1.2M396.1 169.2h1.2M407.1 154.7h1.2M393.7 168.1h1.2M391.3 174.7h1.2M399.5 166.1h1.2M402.6 161.7h1.2M401.6 163.6h1.2M405.5 166.6h1.2M402.5 161.9h1.2M401.0 159.7h1.2M396.8 180.0h1.2M404.3 169.0h1.2M404.2 175.5h1.2M402.4 165.0h1.2M397.1 166.7h1.2M404.2 153.6h1.2M392.3 179.4h1.2M400.7 170.0h1.2M403.1 162.7h1.2M400.1 174.7h1.2M399.0 169.6h1.2M405.8 163.4h1.2M403.7 160.6h1.2M404.1 163.8h1.2M406.9 161.4h1.2M407.5 165.4h1.2M400.8 158.2h1.2M405.5 160.2h1.2M403.9 177.7h1.2M406.5 155.7h1.2M403.0 160.4h1.2M394.4 167.3h1.2M409.7 164.2h1.2M400.7 176.6h1.2M399.0 162.4h1.2M401.0 169.9h1.2M397.0 166.4h1.2M398.6 173.1h1.2M397.5 160.0h1.2M400.4 163.1h1.2M405.2 162.0h1.2M401.5 174.6h1.2M404.9 165.5h1.2M399.2 163.2h1.2M403.1 167.6h1.2M401.7 171.0h1.2M400.7 158.0h1.2M407.1 163.8h1.2M391.6 178.5h1.2M400.9 158.0h1.2M407.2 158.4h1.2M395.9 173.1h1.2M401.6 166.6h1.2M399.8 163.6h1.2M399.7 165.3h1.2M406.9 157.1h1.2M403.5 149.1h1.2M406.3 167.0h1.2M401.4 165.5h1.2M403.7 169.5h1.2M404.4 165.6h1.2M401.0 165.4h1.2M392.6 172.3h1.2M398.6 156.8h1.2M403.3 167.1h1.2M399.7 179.8h1.2M403.9 178.5h1.2M395.5 181.4h1.2M398.6 164.4h1.2M405.0 165.4h1.2M401.8 163.2h1.2M402.8 175.4h1.2M399.7 170.2h1.2M395.4 173.4h1.2M405.9 167.0h1.2M401.4 161.9h1.2M403.8 156.3h1.2M392.8 177.2h1.2M399.9 170.2h1.2M401.1 170.0h1.2M398.7 157.2h1.2M400.9 174.3h1.2M399.0 160.4h1.2M396.2 169.8h1.2M402.3 166.6h1.2M398.3 167.9h1.2M403.2 160.4h1.2M404.0 161.3h1.2M402.8 171.8h1.2M397.6 169.7h1.2M403.2 160.7h1.2M402.4 152.4h1.2M396.8 167.5h1.2M406.7 162.5h1.2M400.9 168.8h1.2M402.7 170.2h1.2M403.3 173.1h1.2M397.8 168.2h1.2M394.1 162.2h1.2M399.9 170.4h1.2M398.2 172.0h1.2M407.6 161.0h1.2M398.9 167.4h1.2M402.5 167.6h1.2M406.9 157.9h1.2M400.9 175.7h1.2M403.8 170.4h1.2M399.5 168.8h1.2M405.0 153.8h1.2M399.4 165.1h1.2M401.9 158.4h1.2M401.4 162.9h1.2M401.6 165.7h1.2M399.4 173.7h1.2M400.7 169.2h1.2M398.3 170.7h1.2M401.7 160.9h1.2M395.1 171.5h1.2M399.0 167.3h1.2M403.6 171.3h1.2M408.9 167.3h1.2M402.7 172.3h1.2M399.0 165.7h1.2M402.0 157.6h1.2M404.2 160.4h1.2M408.5 162.1h1.2M399.3 166.1h1.2M399.5 165.9h1.2M402.8 154.5h1.2M405.1 171.0h1.2M402.9 162.6h1.2M400.1 168.1h1.2M398.8 158.5h1.2M395.3 174.6h1.2M395.0 173.8h1.2M400.9 166.2h1.2M403.5 174.1h1.2M407.0 158.9h1.2M400.8 180.0h1.2M402.1 162.2h1.2M395.2 172.6h1.2M402.2 166.4h1.2M393.3 177.0h1.2M404.2 166.8h1.2M408.4 160.3h1.2M406.6 159.3h1.2M406.5 165.4h1.2M406.3 164.1h1.2M399.7 175.1h1.2M398.1 165.8h1.2M396.5 171.6h1.2M400.2 162.5h1.2M397.7 174.6h1.2M398.0 164.7h1.2M401.6 161.5h1.2M399.1 164.0h1.2M405.7 154.4h1.2M405.0 157.2h1.2M395.7 183.4h1.2M398.3 164.5h1.2M398.0 173.2h1.2M404.2 151.9h1.2M395.6 165.7h1.2M399.5 174.4h1.2M397.9 170.5h1.2M394.6 174.7h1.2M402.7 160.8h1.2M397.5 179.4h1.2M401.6 155.7h1.2M400.8 156.1h1.2M400.2 168.6h1.2M400.3 167.3h1.2M405.8 165.0h1.2M404.6 156.9h1.2M398.9 166.5h1.2M408.4 148.8h1.2M396.6 162.2h1.2M397.1 173.7h1.2M412.0 149.3h1.2M395.6 165.2h1.2M400.9 168.5h1.2M406.2 157.0h1.2M412.6 148.9h1.2M397.7 164.8h1.2M405.0 154.1h1.2M404.3 179.4h1.2M395.8 165.1h1.2M399.7 157.9h1.2M405.7 165.7h1.2M400.5 163.8h1.2M392.0 172.8h1.2M393.8 174.3h1.2M400.6 158.0h1.2M407.8 167.1h1.2M400.0 156.9h1.2M398.5 181.7h1.2M405.5 160.2h1.2M398.1 154.9h1.2M400.1 165.1h1.2M394.3 174.2h1.2M399.0 154.7h1.2M402.3 168.3h1.2M396.5 171.5h1.2M389.6 176.4h1.2M395.9 181.9h1.2M397.5 175.7h1.2M399.8 164.5h1.2M409.3 147.2h1.2M395.1 179.0h1.2M404.7 167.5h1.2M398.0 176.5h1.2M408.8 145.5h1.2M397.8 158.7h1.2" stroke="#b0112f" stroke-width="1.2" fill="none"/>
<path d="M427.5 168.3h1.2M421.4 177.8h1.2M426.8 174.3h1.2M425.9 170.5h1.2M426.3 171.8h1.2M422.1 172.8h1.2M424.0 168.9h1.2M428.0 164.4h1.2M427.7 170.7h1.2M423.2 168.2h1.2M418.8 174.9h1.2M422.2 180.1h1.2M422.7 172.7h1.2M425.7 164.9h1.2M424.7 172.0h1.2M429.0 170.3h1.2M426.3 176.2h1.2M424.2 168.1h1.2M419.3 176.8h1.2M422.3 173.5h1.2M428.9 170.3h1.2M423.9 171.1h1.2M427.3 163.3h1.2M422.7 170.4h1.2M421.9 178.6h1.2M420.1 170.0h1.2M420.1 173.9h1.2M427.4 171.8h1.2M430.7 170.5h1.2M427.3 164.6h1.2M424.0 169.8h1.2M424.4 177.0h1.2M427.2 166.5h1.2M426.2 167.8h1.2M425.8 167.7h1.2M423.9 168.7h1.2M425.1 168.7h1.2M422.1 168.9h1.2M425.8 174.0h1.2M427.5 164.2h1.2M425.7 163.0h1.2M425.1 167.9h1.2M419.8 170.8h1.2M423.8 164.9h1.2M422.0 173.0h1.2M431.5 171.1h1.2M426.3 168.0h1.2M425.9 169.1h1.2M435.0 168.6h1.2M427.7 166.4h1.2M428.2 168.3h1.2M430.2 166.0h1.2M430.7 174.1h1.2M419.8 171.0h1.2M427.7 164.2h1.2M428.4 168.4h1.2M429.2 168.7h1.2M427.9 172.1h1.2M426.5 171.4h1.2M426.0 168.0h1.2M425.3 174.1h1.2M419.3 179.9h1.2M433.1 167.3h1.2M428.9 171.4h1.2M428.6 166.9h1.2M432.2 168.7h1.2M427.6 166.8h1.2M427.6 178.6h1.2M423.8 166.3h1.2M428.0 168.7h1.2M427.8 164.8h1.2M429.4 165.6h1.2M422.0 182.3h1.2M421.0 177.3h1.2M428.6 167.7h1.2M427.5 165.3h1.2M424.5 173.6h1.2M429.0 170.2h1.2M423.2 168.2h1.2M429.4 173.8h1.2M431.1 160.6h1.2M423.5 172.1h1.2M420.2 175.0h1.2M426.8 165.5h1.2M424.8 169.0h1.2M429.9 169.0h1.2M421.7 167.4h1.2M423.4 178.0h1.2M419.4 175.4h1.2M426.5 173.2h1.2M426.3 165.1h1.2M421.2 173.1h1.2M423.8 175.4h1.2M430.5 172.8h1.2M421.0 178.9h1.2M423.8 166.4h1.2M426.0 168.0h1.2M428.4 166.6h1.2M432.3 165.6h1.2M428.2 161.4h1.2M421.0 170.9h1.2M428.0 170.2h1.2M426.5 174.2h1.2M424.6 169.2h1.2M421.8 179.9h1.2M423.9 171.3h1.2M424.3 176.5h1.2M424.3 175.7h1.2M424.0 167.6h1.2M421.3 167.3h1.2M431.2 174.5h1.2M425.5 171.6h1.2M429.7 164.4h1.2M424.7 168.5h1.2M428.6 166.5h1.2M427.5 166.8h1.2M424.3 165.4h1.2M421.8 172.9h1.2M427.8 174.7h1.2M426.8 167.4h1.2M423.4 165.7h1.2M427.0 177.6h1.2M427.1 169.4h1.2M424.9 172.1h1.2M424.9 172.2h1.2M423.9 169.4h1.2M422.4 174.6h1.2M419.6 174.4h1.2M427.0 167.8h1.2M425.7 170.8h1.2M424.3 171.8h1.2M428.8 161.8h1.2M427.8 171.1h1.2M429.1 174.3h1.2M417.9 173.1h1.2M422.9 171.8h1.2M428.8 178.2h1.2M423.5 168.3h1.2M420.3 171.0h1.2M429.9 166.4h1.2M424.7 175.1h1.2M429.6 168.3h1.2M427.0 164.2h1.2M421.9 169.9h1.2M422.8 176.2h1.2M427.4 169.2h1.2M418.5 175.2h1.2M426.4 170.3h1.2M426.1 164.1h1.2M430.0 166.7h1.2M425.8 173.9h1.2M429.1 162.4h1.2M423.5 177.1h1.2M427.1 163.4h1.2M428.3 172.4h1.2M421.3 174.9h1.2M424.1 171.9h1.2M426.8 166.3h1.2M428.6 166.7h1.2M422.9 165.4h1.2M426.3 176.9h1.2M428.9 177.7h1.2M429.3 173.6h1.2M423.7 171.7h1.2M421.8 172.2h1.2M424.2 170.8h1.2M424.2 168.5h1.2M428.9 170.6h1.2M423.6 170.6h1.2M428.6 170.6h1.2M426.9 161.6h1.2M420.0 173.2h1.2M424.5 172.3h1.2M427.9 173.0h1.2M428.4 168.6h1.2M420.4 170.9h1.2M424.3 172.7h1.2M423.7 168.1h1.2M433.1 169.3h1.2M422.9 176.3h1.2M425.1 170.5h1.2M418.7 170.8h1.2M421.7 175.4h1.2M426.6 168.5h1.2M427.6 169.8h1.2M420.8 176.5h1.2M428.1 172.1h1.2M425.9 175.1h1.2M427.3 171.3h1.2M425.1 172.2h1.2M426.5 172.6h1.2M424.8 169.2h1.2M429.5 166.5h1.2M424.0 173.6h1.2M427.1 169.2h1.2M427.1 168.1h1.2M429.3 169.9h1.2M424.8 162.6h1.2M426.2 171.6h1.2M428.0 163.8h1.2M427.6 166.3h1.2M424.3 169.4h1.2M423.3 170.6h1.2M425.2 167.2h1.2M421.8 176.5h1.2M427.5 176.6h1.2M424.1 169.3h1.2M426.2 175.1h1.2M422.0 167.8h1.2M422.3 172.6h1.2M428.8 168.8h1.2M431.9 172.0h1.2M432.4 172.9h1.2M421.1 178.6h1.2M425.8 167.5h1.2M429.7 172.1h1.2M430.2 165.3h1.2M428.0 177.1h1.2M425.1 173.9h1.2M425.9 167.5h1.2M421.1 169.7h1.2M426.9 175.8h1.2M426.5 174.7h1.2M426.9 163.2h1.2M427.1 171.9h1.2M429.1 170.4h1.2M422.7 171.0h1.2M428.6 162.3h1.2M426.6 165.6h1.2M424.5 166.3h1.2M422.5 182.0h1.2M431.2 170.8h1.2M428.9 171.5h1.2M428.6 167.8h1.2M429.9 162.8h1.2M432.3 169.4h1.2M428.8 168.5h1.2M429.5 165.5h1.2M422.8 173.8h1.2M432.2 162.5h1.2M431.3 165.7h1.2M425.4 173.0h1.2M425.1 168.0h1.2M424.3 171.7h1.2M424.9 177.5h1.2M421.9 179.5h1.2M419.2 176.8h1.2M423.4 173.3h1.2M425.4 170.5h1.2M422.7 170.7h1.2M430.6 173.7h1.2M425.9 170.3h1.2M428.2 170.4h1.2M425.4 171.2h1.2M426.8 176.3h1.2M424.9 166.0h1.2M423.9 174.0h1.2M428.8 170.7h1.2M431.6 172.5h1.2M425.9 178.5h1.2M429.4 173.4h1.2M431.1 164.3h1.2M423.0 165.1h1.2M425.1 176.0h1.2M423.1 174.7h1.2M423.6 177.8h1.2M424.0 164.4h1.2M426.1 164.4h1.2M432.3 168.5h1.2M424.8 167.4h1.2M429.3 169.5h1.2M426.4 173.7h1.2M430.1 159.0h1.2M426.7 163.5h1.2M431.7 169.4h1.2M422.4 170.5h1.2M428.4 166.2h1.2M426.4 175.8h1.2M428.5 167.3h1.2M428.8 160.0h1.2M425.9 172.5h1.2M423.6 169.1h1.2M420.2 170.6h1.2M426.1 167.5h1.2M427.8 170.6h1.2M427.2 173.9h1.2M428.5 172.4h1.2M417.3 173.3h1.2M419.2 172.5h1.2M430.0 164.5h1.2M424.0 174.2h1.2M423.3 169.0h1.2M426.6 164.8h1.2M421.3 175.0h1.2M427.7 171.1h1.2M425.4 170.7h1.2M426.2 171.5h1.2M419.4 171.9h1.2M430.2 157.6h1.2M430.6 165.9h1.2M425.8 169.6h1.2M423.2 171.8h1.2M425.9 168.7h1.2M424.3 167.7h1.2M423.3 169.0h1.2M426.8 176.5h1.2M430.3 164.8h1.2M426.2 175.8h1.2M436.6 163.2h1.2M426.8 168.8h1.2M431.3 167.0h1.2M419.3 180.0h1.2M433.3 162.8h1.2M422.7 176.3h1.2M423.0 172.0h1.2M429.8 163.9h1.2M421.6 174.4h1.2M430.4 169.2h1.2M430.5 168.7h1.2M426.6 170.5h1.2M422.1 169.9h1.2M426.0 165.4h1.2M426.3 164.8h1.2M430.2 158.5h1.2M428.0 171.8h1.2M427.2 169.4h1.2M426.8 169.2h1.2M427.0 162.0h1.2M423.7 174.8h1.2M422.6 177.7h1.2M423.2 167.2h1.2M421.4 174.8h1.2M431.5 170.3h1.2M428.4 170.2h1.2M423.7 168.4h1.2M419.6 175.6h1.2M424.5 176.3h1.2M432.8 160.0h1.2M427.7 171.7h1.2M419.8 167.4h1.2M424.3 179.2h1.2M421.5 172.3h1.2M427.2 169.9h1.2M424.0 172.2h1.2M425.8 173.9h1.2M428.2 163.8h1.2M426.1 177.8h1.2M424.6 169.3h1.2M432.3 163.5h1.2M421.3 181.6h1.2M428.4 167.5h1.2M431.0 173.1h1.2M427.5 168.6h1.2M430.8 162.5h1.2M426.4 161.9h1.2M428.4 171.1h1.2M433.9 162.8h1.2M420.9 175.8h1.2M428.6 160.8h1.2M425.0 167.7h1.2M422.7 176.0h1.2M425.5 178.9h1.2M428.7 168.8h1.2M428.4 163.0h1.2M426.1 177.5h1.2M428.4 166.4h1.2M426.4 173.3h1.2M429.2 165.3h1.2M428.0 168.0h1.2M426.3 173.9h1.2M428.1 168.9h1.2M427.9 175.8h1.2M427.1 175.7h1.2M426.7 172.9h1.2M427.8 160.7h1.2M422.1 171.6h1.2M427.8 172.3h1.2M421.7 178.5h1.2M429.4 161.7h1.2M422.9 166.6h1.2M425.9 174.4h1.2M423.4 173.5h1.2M427.6 166.9h1.2M423.2 173.0h1.2M431.1 166.5h1.2M423.2 169.4h1.2M434.1 167.9h1.2M421.8 170.3h1.2M428.7 168.2h1.2M424.7 172.3h1.2M421.7 167.7h1.2M425.2 175.1h1.2M429.0 171.5h1.2M419.1 174.2h1.2M429.5 168.4h1.2M426.0 176.2h1.2M431.4 159.5h1.2M426.7 166.2h1.2M424.1 168.7h1.2M422.3 170.4h1.2M433.6 167.5h1.2M429.9 169.3h1.2M427.6 170.4h1.2M430.9 168.8h1.2M429.7 167.8h1.2M426.6 170.5h1.2M432.6 164.7h1.2M419.2 174.5h1.2M422.8 178.3h1.2M422.9 169.7h1.2M423.1 178.9h1.2M426.9 168.1h1.2M428.0 170.7h1.2M422.2 172.6h1.2M423.7 163.1h1.2M430.6 169.9h1.2M424.3 171.4h1.2M427.5 174.1h1.2M425.0 166.4h1.2M428.9 171.1h1.2M422.3 173.2h1.2M423.4 181.4h1.2M425.0 165.6h1.2M423.4 170.8h1.2M422.0 174.5h1.2M425.1 168.1h1.2M426.9 171.9h1.2M419.8 175.5h1.2M428.6 168.8h1.2M429.2 165.6h1.2M423.7 167.2h1.2M426.6 171.2h1.2M427.5 163.0h1.2M417.9 175.0h1.2M428.9 167.2h1.2M427.6 174.2h1.2M426.5 166.9h1.2M428.0 173.2h1.2M429.1 174.1h1.2M426.0 166.7h1.2M422.0 171.7h1.2M423.4 175.8h1.2M430.9 165.5h1.2M428.5 164.9h1.2M432.1 163.9h1.2M427.0 164.7h1.2M424.4 168.5h1.2M430.8 172.7h1.2M422.1 166.6h1.2M425.1 176.4h1.2M417.6 184.7h1.2M428.1 174.2h1.2M434.4 165.2h1.2M428.3 165.5h1.2M419.0 182.2h1.2M417.0 180.7h1.2M416.1 178.6h1.2M423.6 162.6h1.2M428.6 172.8h1.2M425.7 171.6h1.2M426.5 170.6h1.2M423.4 167.6h1.2M429.3 165.8h1.2M419.2 183.7h1.2M422.5 164.7h1.2M424.2 171.0h1.2M428.5 166.9h1.2M425.0 171.4h1.2M418.5 181.1h1.2M431.7 162.1h1.2M418.0 172.1h1.2M426.7 166.8h1.2M422.4 166.8h1.2M427.8 166.8h1.2M420.4 176.4h1.2M425.3 176.5h1.2M430.3 162.3h1.2M421.3 182.6h1.2M424.2 181.4h1.2M424.4 174.4h1.2M419.9 179.4h1.2M415.4 184.7h1.2M428.9 170.9h1.2M431.9 161.0h1.2M424.2 168.0h1.2M436.0 171.0h1.2M427.6 173.7h1.2M421.7 174.8h1.2M415.2 173.6h1.2M429.8 177.1h1.2M424.3 172.3h1.2M429.2 169.5h1.2M423.4 174.9h1.2M422.5 173.2h1.2M423.2 176.7h1.2M424.4 166.0h1.2M418.9 178.3h1.2M432.8 161.2h1.2M413.2 181.4h1.2M431.6 163.7h1.2M421.8 170.5h1.2M422.7 184.6h1.2M425.3 168.8h1.2M435.1 168.8h1.2M428.5 176.6h1.2M420.1 179.9h1.2M430.1 167.0h1.2M420.5 168.5h1.2M421.0 181.2h1.2M420.7 182.4h1.2M426.7 174.3h1.2M424.8 174.8h1.2M423.8 169.4h1.2M427.4 168.8h1.2M426.8 159.2h1.2M424.5 175.7h1.2M430.4 164.1h1.2M429.4 170.5h1.2M412.4 177.4h1.2M411.3 183.0h1.2M428.6 169.6h1.2M421.0 162.3h1.2M423.9 183.1h1.2M433.1 160.9h1.2M425.2 168.8h1.2M427.1 171.5h1.2M433.0 161.6h1.2M417.2 179.4h1.2M416.9 174.5h1.2M429.4 180.1h1.2M415.8 176.7h1.2M418.2 170.0h1.2M418.8 178.6h1.2M427.9 174.9h1.2M426.5 181.2h1.2M427.8 164.1h1.2M434.3 173.6h1.2M426.9 171.5h1.2M430.5 160.1h1.2M425.2 170.4h1.2M430.3 170.0h1.2M425.0 161.4h1.2M424.0 172.9h1.2M429.0 170.4h1.2M426.2 173.4h1.2M430.5 174.3h1.2M423.2 175.3h1.2M432.7 167.8h1.2M424.9 168.7h1.2M413.3 175.6h1.2M428.3 173.6h1.2M424.7 185.5h1.2M433.8 164.0h1.2M428.0 177.1h1.2M421.3 169.4h1.2M423.3 179.2h1.2M427.9 168.4h1.2M430.7 168.0h1.2M421.7 176.2h1.2M419.3 171.0h1.2M423.2 161.6h1.2M421.8 168.4h1.2M427.5 172.5h1.2M427.5 173.8h1.2M422.5 174.2h1.2M423.9 171.8h1.2M430.7 169.8h1.2M433.3 166.5h1.2M431.8 159.8h1.2M416.9 180.6h1.2M420.9 180.3h1.2M425.0 162.0h1.2M423.1 177.7h1.2M434.7 162.2h1.2M427.0 171.9h1.2M423.5 174.7h1.2M431.4 159.9h1.2M428.0 159.9h1.2M421.8 168.0h1.2M432.1 169.3h1.2M427.7 162.5h1.2M419.7 168.4h1.2M424.7 168.9h1.2M420.2 172.7h1.2M419.2 172.6h1.2M419.9 175.2h1.2M420.6 172.5h1.2M426.8 171.8h1.2M429.4 175.7h1.2M419.6 174.1h1.2M425.0 166.3h1.2M424.4 172.6h1.2M437.7 163.4h1.2M419.6 178.2h1.2M423.3 173.2h1.2M435.0 166.4h1.2M422.0 176.6h1.2M430.8 158.9h1.2M421.3 170.7h1.2M418.0 183.7h1.2M435.7 164.0h1.2M424.5 179.4h1.2M430.7 173.6h1.2M422.9 171.3h1.2M427.2 178.5h1.2M427.0 179.8h1.2M427.7 163.7h1.2M437.1 165.2h1.2M425.5 168.7h1.2M424.8 165.9h1.2M415.2 186.8h1.2M427.2 167.9h1.2M421.6 177.7h1.2M424.4 167.2h1.2M416.9 172.5h1.2M420.9 182.5h1.2M412.4 183.2h1.2M429.0 171.3h1.2M425.3 168.6h1.2M418.3 174.0h1.2M426.4 165.5h1.2M426.3 173.1h1.2M424.4 168.7h1.2M418.0 179.2h1.2M431.3 168.7h1.2M419.3 180.2h1.2M416.8 182.4h1.2M423.7 176.6h1.2M415.3 172.8h1.2M423.7 175.8h1.2M424.4 175.8h1.2M419.8 176.3h1.2M429.8 164.7h1.2M421.4 170.5h1.2M435.5 157.7h1.2M414.5 174.2h1.2M421.6 166.8h1.2M421.0 173.8h1.2M422.6 184.7h1.2M416.9 177.4h1.2M420.2 171.0h1.2M423.1 175.8h1.2M417.1 178.5h1.2M425.0 171.1h1.2M428.9 163.9h1.2M425.9 175.0h1.2M418.7 184.4h1.2M423.7 167.8h1.2M421.6 177.0h1.2M420.7 177.1h1.2M434.0 160.9h1.2M431.7 156.8h1.2M426.1 168.1h1.2M426.2 173.7h1.2M419.6 179.5h1.2M432.2 164.6h1.2M421.7 172.2h1.2M431.2 173.5h1.2M423.5 172.8h1.2M427.9 172.4h1.2M427.8 169.2h1.2M426.9 165.2h1.2M429.5 169.1h1.2M425.1 175.1h1.2M427.4 161.6h1.2M421.3 176.3h1.2M427.7 176.6h1.2M421.7 174.1h1.2M414.6 173.2h1.2M422.6 175.4h1.2M426.7 162.2h1.2M423.4 169.9h1.2M427.7 169.8h1.2M423.4 176.5h1.2M422.1 168.5h1.2M422.8 164.8h1.2M430.9 168.5h1.2M428.7 178.4h1.2M427.4 173.8h1.2M423.2 180.2h1.2M427.7 168.2h1.2M415.3 182.9h1.2M426.6 168.1h1.2M430.2 159.0h1.2M422.3 172.5h1.2M426.9 165.5h1.2M424.5 175.2h1.2M422.5 172.6h1.2M418.6 175.1h1.2M423.6 167.3h1.2M427.4 168.9h1.2M412.8 182.8h1.2M437.2 163.0h1.2M430.9 163.4h1.2M431.6 163.5h1.2M424.7 176.0h1.2M425.2 182.6h1.2M419.8 176.7h1.2M424.3 169.8h1.2M431.1 158.9h1.2M435.6 159.3h1.2M422.2 174.4h1.2M432.2 161.3h1.2M420.3 174.6h1.2M421.7 184.0h1.2M417.7 170.8h1.2M420.5 175.4h1.2M420.7 167.2h1.2M430.1 168.6h1.2M428.2 164.3h1.2M434.2 164.9h1.2M423.8 167.4h1.2M415.3 184.6h1.2M429.5 166.5h1.2M425.5 174.8h1.2M426.3 171.5h1.2M431.5 164.7h1.2M423.3 166.3h1.2M418.9 173.8h1.2M425.8 183.3h1.2M425.1 174.5h1.2M428.6 161.6h1.2M433.1 162.8h1.2M426.7 171.1h1.2M427.2 173.2h1.2M428.0 167.8h1.2M421.4 165.8h1.2M422.8 179.6h1.2M433.6 167.6h1.2M419.4 174.1h1.2M432.6 162.1h1.2M416.8 180.6h1.2M419.0 168.8h1.2M414.2 179.1h1.2M428.2 163.8h1.2M423.0 163.4h1.2M431.4 176.3h1.2M429.3 163.3h1.2M428.2 169.0h1.2M416.7 178.8h1.2M430.3 166.5h1.2M429.9 174.0h1.2M426.1 173.4h1.2M426.1 177.7h1.2M421.1 175.4h1.2M423.4 171.5h1.2M434.7 167.7h1.2M423.7 166.7h1.2M418.1 178.9h1.2M410.6 183.3h1.2M431.9 171.6h1.2M427.3 169.4h1.2M424.4 177.1h1.2M424.2 177.9h1.2M431.8 174.1h1.2M428.1 171.6h1.2M424.4 172.9h1.2M423.5 173.6h1.2M423.2 168.7h1.2M428.3 162.6h1.2M425.1 166.8h1.2M431.4 160.9h1.2M429.2 163.5h1.2M421.9 171.0h1.2M427.3 175.5h1.2M425.6 167.6h1.2M436.1 163.4h1.2M435.0 163.8h1.2M423.1 170.5h1.2M417.4 181.8h1.2M425.7 173.3h1.2M427.2 175.2h1.2M413.9 181.0h1.2M422.9 188.1h1.2M408.2 187.4h1.2M417.5 178.6h1.2M422.0 159.1h1.2M425.7 180.0h1.2M426.2 171.8h1.2M422.1 174.7h1.2M428.0 171.9h1.2M421.5 167.0h1.2M435.4 170.9h1.2M412.8 190.0h1.2M427.2 176.2h1.2M427.9 171.8h1.2M414.2 179.6h1.2M415.3 187.7h1.2M424.3 168.4h1.2M425.9 171.6h1.2M426.9 163.4h1.2M422.7 176.1h1.2M431.3 176.7h1.2M413.4 172.5h1.2M420.9 169.0h1.2M430.7 158.0h1.2M430.5 165.8h1.2M419.4 161.3h1.2M415.7 192.0h1.2M427.6 177.4h1.2M422.6 168.8h1.2M430.3 170.0h1.2M419.9 182.5h1.2M422.7 164.8h1.2M425.2 173.7h1.2M425.7 167.3h1.2M413.1 189.6h1.2M437.8 160.8h1.2M423.1 173.5h1.2M431.0 159.7h1.2M422.0 173.6h1.2M418.8 173.8h1.2M421.7 176.4h1.2M425.1 167.8h1.2M418.3 183.1h1.2M427.6 174.0h1.2M415.7 181.3h1.2M420.9 182.1h1.2M426.8 163.8h1.2M427.5 167.1h1.2" stroke="#b0112f" stroke-width="1.2" fill="none"/>
<path d="M375.2 131.5h1.4M396.3 139.1h1.4M403.0 138.7h1.4M405.9 140.5h1.4M403.5 142.0h1.4M431.8 135.8h1.4M430.3 138.7h1.4M427.5 145.9h1.4M423.9 148.0h1.4M384.3 148.7h1.4M389.3 151.0h1.4M397.3 149.5h1.4M401.6 149.5h1.4M413.1 151.0h1.4M428.9 151.0h1.4M429.7 155.2h1.4M431.8 155.2h1.4M416.3 199.0h1.4M417.8 197.0h1.4M409.3 187.0h1.4M411.3 190.0h1.4" stroke="#b0112f" stroke-width="1.4" fill="none"/>
<path d="M326.8 126.9 V241.3 H441.3" stroke="#000" stroke-width="1.3" fill="none"/>
<path d="M323.3 239.38 H326.8" stroke="#000" stroke-width="1.0"/>
<text x="320.20" y="242.19" font-size="7.90" text-anchor="end" letter-spacing="0.05">10.5</text>
<path d="M323.3 206.00 H326.8" stroke="#000" stroke-width="1.0"/>
<text x="320.20" y="208.80" font-size="7.90" text-anchor="end" letter-spacing="0.05">11.0</text>
<path d="M323.3 172.62 H326.8" stroke="#000" stroke-width="1.0"/>
<text x="320.20" y="175.42" font-size="7.90" text-anchor="end" letter-spacing="0.05">11.5</text>
<path d="M323.3 139.23 H326.8" stroke="#000" stroke-width="1.0"/>
<text x="320.20" y="142.03" font-size="7.90" text-anchor="end" letter-spacing="0.05">12.0</text>
<path d="M347.60 241.1 V244.6" stroke="#000" stroke-width="1.0"/>
<text x="347.30" y="255.30" font-size="8.20" text-anchor="middle" letter-spacing="0.05">–1</text>
<path d="M380.20 241.1 V244.6" stroke="#000" stroke-width="1.0"/>
<text x="380.20" y="255.30" font-size="8.20" text-anchor="middle" letter-spacing="0.05">0</text>
<path d="M412.80 241.1 V244.6" stroke="#000" stroke-width="1.0"/>
<text x="412.80" y="255.30" font-size="8.20" text-anchor="middle" letter-spacing="0.05">1</text>
<text transform="translate(383.90 268.50) scale(0.681 1)" font-size="9.80" text-anchor="middle" style="stroke-width:0.3px">Contrast</text>
<text transform="translate(298.10 182.30) rotate(-90) scale(0.741 1)" font-size="9.80" text-anchor="middle" style="stroke-width:0.3px">Signal strength</text>
<text x="480.20" y="166.00" font-size="7.80" text-anchor="middle" font-weight="bold">RHD</text>
<text x="479.90" y="175.40" font-size="7.65" text-anchor="middle" font-weight="bold">copy number</text>
<circle cx="455.8" cy="184.9" r="3.6" fill="#2d4b86"/>
<path d="M451.8 198.4 L456 192.4 L460.2 198.4 Z" fill="#e0991f"/>
<rect x="452.6" y="202.3" width="6.8" height="6.5" fill="#b0112f"/>
<text x="462.80" y="187.00" font-size="7.70" text-anchor="start" word-spacing="0.7">CN0 (D –/–)</text>
<text x="462.80" y="197.70" font-size="7.70" text-anchor="start" word-spacing="0.7">CN1 (D +/–)</text>
<text x="462.80" y="207.90" font-size="7.70" text-anchor="start" word-spacing="0.7">CN2 (D +/+)</text>
</g>
<g id="panelD">
<rect x="180.05" y="428.59" width="13.2" height="42.51" fill="#c1007c"/>
<rect x="193.25" y="341.02" width="13.2" height="130.08" fill="#6aa9dd"/>
<path d="M193.25 477.3 V481" stroke="#000" stroke-width="1.0"/>
<text x="193.25" y="490.90" font-size="8.20" text-anchor="middle">D</text>
<rect x="209.35" y="445.32" width="13.2" height="25.78" fill="#c1007c"/>
<rect x="222.55" y="342.33" width="13.2" height="128.77" fill="#6aa9dd"/>
<path d="M222.55 477.3 V481" stroke="#000" stroke-width="1.0"/>
<text x="222.55" y="490.90" font-size="8.20" text-anchor="middle">C</text>
<rect x="238.65" y="386.25" width="13.2" height="84.86" fill="#c1007c"/>
<rect x="251.85" y="343.38" width="13.2" height="127.72" fill="#6aa9dd"/>
<path d="M251.85 477.3 V481" stroke="#000" stroke-width="1.0"/>
<text x="251.85" y="490.90" font-size="8.20" text-anchor="middle">c</text>
<rect x="267.95" y="382.59" width="13.2" height="88.51" fill="#c1007c"/>
<rect x="281.15" y="341.94" width="13.2" height="129.16" fill="#6aa9dd"/>
<path d="M281.15 477.3 V481" stroke="#000" stroke-width="1.0"/>
<text x="281.15" y="490.90" font-size="8.20" text-anchor="middle">E</text>
<rect x="297.25" y="360.11" width="13.2" height="111.00" fill="#c1007c"/>
<rect x="310.45" y="341.41" width="13.2" height="129.69" fill="#6aa9dd"/>
<path d="M310.45 477.3 V481" stroke="#000" stroke-width="1.0"/>
<text x="310.45" y="490.90" font-size="8.20" text-anchor="middle">e</text>
<path d="M175.65 334.3 V477.3 H326.8" stroke="#000" stroke-width="1.3" fill="none"/>
<path d="M172.2 471.20 H175.6" stroke="#000" stroke-width="1.0"/>
<text x="169.20" y="474.00" font-size="8.20" text-anchor="end" letter-spacing="0.2">0</text>
<path d="M172.2 438.52 H175.6" stroke="#000" stroke-width="1.0"/>
<text x="169.20" y="441.32" font-size="8.20" text-anchor="end" letter-spacing="0.2">25</text>
<path d="M172.2 405.85 H175.6" stroke="#000" stroke-width="1.0"/>
<text x="169.20" y="408.65" font-size="8.20" text-anchor="end" letter-spacing="0.2">50</text>
<path d="M172.2 373.18 H175.6" stroke="#000" stroke-width="1.0"/>
<text x="169.20" y="375.98" font-size="8.20" text-anchor="end" letter-spacing="0.2">75</text>
<path d="M172.2 340.50 H175.6" stroke="#000" stroke-width="1.0"/>
<text x="169.20" y="343.30" font-size="8.20" text-anchor="end" letter-spacing="0.2">100</text>
<text transform="translate(251.50 504.80) scale(0.696 1)" font-size="9.80" text-anchor="middle" style="stroke-width:0.3px">Antigen</text>
<text transform="translate(148.40 406.00) rotate(-90) scale(0.712 1)" font-size="9.80" text-anchor="middle" style="stroke-width:0.3px">Concordance (%)</text>
<rect x="335.1" y="403.6" width="7.2" height="6.3" fill="#c1007c"/>
<rect x="335.1" y="413.1" width="7.2" height="6.3" fill="#6aa9dd"/>
<text x="345.30" y="409.30" font-size="7.40" text-anchor="start">Standard analysis</text>
<text x="345.30" y="418.80" font-size="7.50" text-anchor="start">Novel RH workflow</text>
</g>
</svg></body></html>
